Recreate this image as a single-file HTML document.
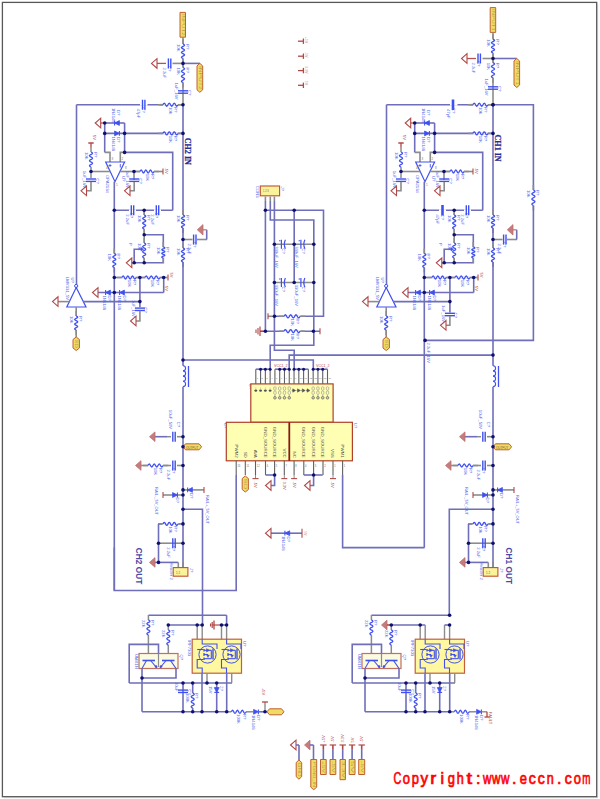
<!DOCTYPE html><html><head><meta charset="utf-8"><style>html,body{margin:0;padding:0;background:#fff;overflow:hidden}svg{display:block}</style></head><body><svg width="600" height="799" viewBox="0 0 600 799"><rect x="0" y="0" width="600" height="799" fill="#ffffff"/>
<rect x="2.4" y="2.4" width="594.3" height="794.3" fill="none" stroke="#585858" stroke-width="1.3"/>
<polyline points="597.6,4 597.6,797.6 4,797.6" fill="none" stroke="#b4b4b4" stroke-width="0.8"/>
<polygon points="180,12.4 180,12.4 185.5,12.4 185.5,37.2 185.5,37.2 180,37.2" stroke="#c06030" stroke-width="1.0" fill="#f0dc62"/>
<text x="181.65" y="13.9" font-size="2.8" fill="#b89850" font-family="Liberation Sans" transform="rotate(90 181.65 13.9)" textLength="21.8" lengthAdjust="spacingAndGlyphs">INPUT2</text>
<line x1="183" y1="37.2" x2="183" y2="44" stroke="#8c8c8c" stroke-width="1.6"/>
<text x="176.7" y="44" font-size="4.2" fill="#5264ec" font-family="Liberation Sans" text-anchor="start" font-weight="normal" transform="rotate(90 176.7 44)">10K</text>
<text x="185.6" y="44" font-size="4.2" fill="#5264ec" font-family="Liberation Sans" text-anchor="start" font-weight="normal" transform="rotate(90 185.6 44)">R?</text>
<line x1="183" y1="39" x2="183" y2="44" stroke="#8c8c8c" stroke-width="1.5"/>
<line x1="183" y1="58.5" x2="183" y2="63.5" stroke="#8c8c8c" stroke-width="1.5"/>
<polyline points="183,44 183.75,44.4 184.3,44.81 184.5,45.21 184.3,45.61 183.75,46.01 183,46.42 182.25,46.82 181.7,47.22 181.5,47.62 181.7,48.03 182.25,48.43 183,48.83 183.75,49.24 184.3,49.64 184.5,50.04 184.3,50.44 183.75,50.85 183,51.25 182.25,51.65 181.7,52.06 181.5,52.46 181.7,52.86 182.25,53.26 183,53.67 183.75,54.07 184.3,54.47 184.5,54.88 184.3,55.28 183.75,55.68 183,56.08 182.25,56.49 181.7,56.89 181.5,57.29 181.7,57.69 182.25,58.1 183,58.5" stroke="#4050f0" stroke-width="1.3" fill="none" stroke-linejoin="miter"/>
<line x1="183" y1="58.5" x2="183" y2="67.5" stroke="#8c8c8c" stroke-width="1.6"/>
<line x1="157" y1="63.4" x2="166" y2="63.4" stroke="#b85050" stroke-width="1.3"/>
<text x="162.6" y="67.4" font-size="4.2" fill="#5264ec" font-family="Liberation Sans" text-anchor="start" font-weight="normal" transform="rotate(90 162.6 67.4)">2.2uF</text>
<text x="167.5" y="65.9" font-size="4.2" fill="#5264ec" font-family="Liberation Sans" text-anchor="start" font-weight="normal" transform="rotate(90 167.5 65.9)">C?</text>
<line x1="168.4" y1="58.4" x2="168.4" y2="68.4" stroke="#4050f0" stroke-width="1.4"/>
<line x1="170.8" y1="58.4" x2="170.8" y2="68.4" stroke="#4050f0" stroke-width="1.4"/>
<line x1="172.5" y1="63.4" x2="183" y2="63.4" stroke="#8c8c8c" stroke-width="1.6"/>
<polygon points="157,58.6 157,68.2 151.5,63.4" stroke="#b04848" stroke-width="1.1" fill="none"/>
<line x1="183" y1="63.4" x2="200" y2="63.4" stroke="#6e6eba" stroke-width="1.6"/>
<polygon points="197,65.9 199.85,63.4 202.7,65.9 202.7,89.8 199.85,92.3 197,89.8" stroke="#c06030" stroke-width="1.0" fill="#f0dc62"/>
<text x="198.75" y="65.9" font-size="2.8" fill="#b89850" font-family="Liberation Sans" transform="rotate(90 198.75 65.9)" textLength="23.9" lengthAdjust="spacingAndGlyphs">INPUT2</text>
<text x="176.7" y="67.5" font-size="4.2" fill="#5264ec" font-family="Liberation Sans" text-anchor="start" font-weight="normal" transform="rotate(90 176.7 67.5)">10K</text>
<text x="185.6" y="67.5" font-size="4.2" fill="#5264ec" font-family="Liberation Sans" text-anchor="start" font-weight="normal" transform="rotate(90 185.6 67.5)">R?</text>
<line x1="183" y1="62.5" x2="183" y2="67.5" stroke="#8c8c8c" stroke-width="1.5"/>
<line x1="183" y1="82.6" x2="183" y2="87.6" stroke="#8c8c8c" stroke-width="1.5"/>
<polyline points="183,67.5 183.75,67.92 184.3,68.34 184.5,68.76 184.3,69.18 183.75,69.6 183,70.02 182.25,70.44 181.7,70.86 181.5,71.28 181.7,71.69 182.25,72.11 183,72.53 183.75,72.95 184.3,73.37 184.5,73.79 184.3,74.21 183.75,74.63 183,75.05 182.25,75.47 181.7,75.89 181.5,76.31 181.7,76.73 182.25,77.15 183,77.57 183.75,77.99 184.3,78.41 184.5,78.82 184.3,79.24 183.75,79.66 183,80.08 182.25,80.5 181.7,80.92 181.5,81.34 181.7,81.76 182.25,82.18 183,82.6" stroke="#4050f0" stroke-width="1.3" fill="none" stroke-linejoin="miter"/>
<line x1="183" y1="82.6" x2="183" y2="104.7" stroke="#8c8c8c" stroke-width="1.6"/>
<text x="175" y="82.6" font-size="4.2" fill="#5264ec" font-family="Liberation Sans" text-anchor="start" font-weight="normal" transform="rotate(90 175 82.6)">1uF_16V</text>
<text x="187.5" y="90" font-size="4.2" fill="#5264ec" font-family="Liberation Sans" text-anchor="start" font-weight="normal" transform="rotate(90 187.5 90)">C?</text>
<line x1="178" y1="90.8" x2="188" y2="90.8" stroke="#4050f0" stroke-width="1.4"/>
<line x1="178" y1="93.2" x2="188" y2="93.2" stroke="#4050f0" stroke-width="1.4"/>
<line x1="183" y1="104.7" x2="183" y2="215" stroke="#6e6eba" stroke-width="1.6"/>
<text x="176.7" y="215" font-size="4.2" fill="#5264ec" font-family="Liberation Sans" text-anchor="start" font-weight="normal" transform="rotate(90 176.7 215)">10K</text>
<text x="185.6" y="215" font-size="4.2" fill="#5264ec" font-family="Liberation Sans" text-anchor="start" font-weight="normal" transform="rotate(90 185.6 215)">R?</text>
<line x1="183" y1="210" x2="183" y2="215" stroke="#8c8c8c" stroke-width="1.5"/>
<line x1="183" y1="228" x2="183" y2="233" stroke="#8c8c8c" stroke-width="1.5"/>
<polyline points="183,215 183.75,215.36 184.3,215.72 184.5,216.08 184.3,216.44 183.75,216.81 183,217.17 182.25,217.53 181.7,217.89 181.5,218.25 181.7,218.61 182.25,218.97 183,219.33 183.75,219.69 184.3,220.06 184.5,220.42 184.3,220.78 183.75,221.14 183,221.5 182.25,221.86 181.7,222.22 181.5,222.58 181.7,222.94 182.25,223.31 183,223.67 183.75,224.03 184.3,224.39 184.5,224.75 184.3,225.11 183.75,225.47 183,225.83 182.25,226.19 181.7,226.56 181.5,226.92 181.7,227.28 182.25,227.64 183,228" stroke="#4050f0" stroke-width="1.3" fill="none" stroke-linejoin="miter"/>
<line x1="183" y1="228" x2="183" y2="248" stroke="#6e6eba" stroke-width="1.6"/>
<text x="176.7" y="248" font-size="4.2" fill="#5264ec" font-family="Liberation Sans" text-anchor="start" font-weight="normal" transform="rotate(90 176.7 248)">10K</text>
<text x="185.6" y="248" font-size="4.2" fill="#5264ec" font-family="Liberation Sans" text-anchor="start" font-weight="normal" transform="rotate(90 185.6 248)">R?</text>
<line x1="183" y1="243" x2="183" y2="248" stroke="#8c8c8c" stroke-width="1.5"/>
<line x1="183" y1="262" x2="183" y2="267" stroke="#8c8c8c" stroke-width="1.5"/>
<polyline points="183,248 183.75,248.39 184.3,248.78 184.5,249.17 184.3,249.56 183.75,249.94 183,250.33 182.25,250.72 181.7,251.11 181.5,251.5 181.7,251.89 182.25,252.28 183,252.67 183.75,253.06 184.3,253.44 184.5,253.83 184.3,254.22 183.75,254.61 183,255 182.25,255.39 181.7,255.78 181.5,256.17 181.7,256.56 182.25,256.94 183,257.33 183.75,257.72 184.3,258.11 184.5,258.5 184.3,258.89 183.75,259.28 183,259.67 182.25,260.06 181.7,260.44 181.5,260.83 181.7,261.22 182.25,261.61 183,262" stroke="#4050f0" stroke-width="1.3" fill="none" stroke-linejoin="miter"/>
<line x1="183" y1="262" x2="183" y2="365.7" stroke="#6e6eba" stroke-width="1.6"/>
<line x1="183" y1="239.5" x2="192.5" y2="239.5" stroke="#8c8c8c" stroke-width="1.6"/>
<text x="187.8" y="243.5" font-size="4.2" fill="#5264ec" font-family="Liberation Sans" text-anchor="start" font-weight="normal" transform="rotate(90 187.8 243.5)">2.2uF</text>
<text x="192.7" y="242" font-size="4.2" fill="#5264ec" font-family="Liberation Sans" text-anchor="start" font-weight="normal" transform="rotate(90 192.7 242)">C?</text>
<line x1="193.6" y1="234.5" x2="193.6" y2="244.5" stroke="#4050f0" stroke-width="1.4"/>
<line x1="196" y1="234.5" x2="196" y2="244.5" stroke="#4050f0" stroke-width="1.4"/>
<line x1="197" y1="239.5" x2="207" y2="239.5" stroke="#8c8c8c" stroke-width="1.6"/>
<polyline points="206.7,239.5 206.7,229.8" stroke="#6e6eba" stroke-width="1.6" fill="none" stroke-linejoin="miter"/>
<line x1="203" y1="229.8" x2="206.7" y2="229.8" stroke="#c47c7c" stroke-width="1.3"/>
<polygon points="203,224.6 203,235 197.3,229.8" stroke="#c07070" stroke-width="0.8" fill="#c47c7c"/>
<path d="M183,365.7 A2.6,2.6 0 0 1 183,370.9" stroke="#4050f0" stroke-width="1.1" fill="none"/>
<path d="M183,370.9 A2.6,2.6 0 0 1 183,376.1" stroke="#4050f0" stroke-width="1.1" fill="none"/>
<path d="M183,376.1 A2.6,2.6 0 0 1 183,381.3" stroke="#4050f0" stroke-width="1.1" fill="none"/>
<path d="M183,381.3 A2.6,2.6 0 0 1 183,386.5" stroke="#4050f0" stroke-width="1.1" fill="none"/>
<line x1="188.5" y1="366" x2="188.5" y2="387" stroke="#4050f0" stroke-width="1.3"/>
<line x1="183" y1="386.7" x2="183" y2="576" stroke="#6e6eba" stroke-width="1.6"/>
<line x1="76.5" y1="104.7" x2="183" y2="104.7" stroke="#6e6eba" stroke-width="1.6"/>
<line x1="140" y1="104.7" x2="147.5" y2="104.7" stroke="#ffffff" stroke-width="2"/>
<text x="136.7" y="108.7" font-size="4.2" fill="#5264ec" font-family="Liberation Sans" text-anchor="start" font-weight="normal" transform="rotate(90 136.7 108.7)">47pF</text>
<text x="141.6" y="107.2" font-size="4.2" fill="#5264ec" font-family="Liberation Sans" text-anchor="start" font-weight="normal" transform="rotate(90 141.6 107.2)">C?</text>
<line x1="142.5" y1="99.7" x2="142.5" y2="109.7" stroke="#4050f0" stroke-width="1.4"/>
<line x1="144.9" y1="99.7" x2="144.9" y2="109.7" stroke="#4050f0" stroke-width="1.4"/>
<line x1="160" y1="104.7" x2="163" y2="104.7" stroke="#8c8c8c" stroke-width="1.6"/>
<line x1="163" y1="104.7" x2="178" y2="104.7" stroke="#ffffff" stroke-width="2"/>
<text x="169.2" y="107" font-size="4.2" fill="#5264ec" font-family="Liberation Sans" text-anchor="start" font-weight="normal" transform="rotate(90 169.2 107)">10K</text>
<text x="174.4" y="107" font-size="4.2" fill="#5264ec" font-family="Liberation Sans" text-anchor="start" font-weight="normal" transform="rotate(90 174.4 107)">R?</text>
<line x1="158" y1="104.7" x2="163" y2="104.7" stroke="#8c8c8c" stroke-width="1.5"/>
<line x1="178" y1="104.7" x2="183" y2="104.7" stroke="#8c8c8c" stroke-width="1.5"/>
<polyline points="163,104.7 163.42,103.95 163.83,103.4 164.25,103.2 164.67,103.4 165.08,103.95 165.5,104.7 165.92,105.45 166.33,106 166.75,106.2 167.17,106 167.58,105.45 168,104.7 168.42,103.95 168.83,103.4 169.25,103.2 169.67,103.4 170.08,103.95 170.5,104.7 170.92,105.45 171.33,106 171.75,106.2 172.17,106 172.58,105.45 173,104.7 173.42,103.95 173.83,103.4 174.25,103.2 174.67,103.4 175.08,103.95 175.5,104.7 175.92,105.45 176.33,106 176.75,106.2 177.17,106 177.58,105.45 178,104.7" stroke="#4050f0" stroke-width="1.3" fill="none" stroke-linejoin="miter"/>
<line x1="76.5" y1="104.7" x2="76.5" y2="284.5" stroke="#6e6eba" stroke-width="1.6"/>
<line x1="104.7" y1="133.4" x2="183" y2="133.4" stroke="#6e6eba" stroke-width="1.6"/>
<line x1="163" y1="133.4" x2="178" y2="133.4" stroke="#ffffff" stroke-width="2"/>
<text x="169.2" y="135.7" font-size="4.2" fill="#5264ec" font-family="Liberation Sans" text-anchor="start" font-weight="normal" transform="rotate(90 169.2 135.7)">10K</text>
<text x="174.4" y="135.7" font-size="4.2" fill="#5264ec" font-family="Liberation Sans" text-anchor="start" font-weight="normal" transform="rotate(90 174.4 135.7)">R?</text>
<line x1="158" y1="133.4" x2="163" y2="133.4" stroke="#8c8c8c" stroke-width="1.5"/>
<line x1="178" y1="133.4" x2="183" y2="133.4" stroke="#8c8c8c" stroke-width="1.5"/>
<polyline points="163,133.4 163.42,132.65 163.83,132.1 164.25,131.9 164.67,132.1 165.08,132.65 165.5,133.4 165.92,134.15 166.33,134.7 166.75,134.9 167.17,134.7 167.58,134.15 168,133.4 168.42,132.65 168.83,132.1 169.25,131.9 169.67,132.1 170.08,132.65 170.5,133.4 170.92,134.15 171.33,134.7 171.75,134.9 172.17,134.7 172.58,134.15 173,133.4 173.42,132.65 173.83,132.1 174.25,131.9 174.67,132.1 175.08,132.65 175.5,133.4 175.92,134.15 176.33,134.7 176.75,134.9 177.17,134.7 177.58,134.15 178,133.4" stroke="#4050f0" stroke-width="1.3" fill="none" stroke-linejoin="miter"/>
<line x1="104.7" y1="123" x2="124.6" y2="123" stroke="#6e6eba" stroke-width="1.6"/>
<polygon points="100.7,118.2 100.7,127.8 95.2,123" stroke="#b04848" stroke-width="1.1" fill="none"/>
<line x1="100.7" y1="123" x2="104.7" y2="123" stroke="#b04848" stroke-width="1.2"/>
<polygon points="119.4,120.6 119.4,125.4 114.6,123" stroke="#4050f0" stroke-width="0.8" fill="#4050f0"/>
<line x1="114.6" y1="120.6" x2="114.6" y2="125.4" stroke="#4050f0" stroke-width="1.1"/>
<polygon points="114.6,131 114.6,135.8 119.4,133.4" stroke="#4050f0" stroke-width="0.8" fill="#4050f0"/>
<line x1="119.4" y1="131" x2="119.4" y2="135.8" stroke="#4050f0" stroke-width="1.1"/>
<line x1="104.7" y1="123" x2="104.7" y2="152.4" stroke="#6e6eba" stroke-width="1.6"/>
<line x1="124.6" y1="123" x2="124.6" y2="152.4" stroke="#6e6eba" stroke-width="1.6"/>
<polyline points="104.7,152.4 110,152.4 110,162" stroke="#8c8c8c" stroke-width="1.6" fill="none" stroke-linejoin="miter"/>
<polyline points="124.6,152.4 120.3,152.4 120.3,162" stroke="#8c8c8c" stroke-width="1.6" fill="none" stroke-linejoin="miter"/>
<polyline points="124.6,152.4 172.7,152.4 172.7,210.3" stroke="#6e6eba" stroke-width="1.6" fill="none" stroke-linejoin="miter"/>
<polygon points="105.7,162 124.6,162 115,181.7" stroke="#4050f0" stroke-width="1.2" fill="none"/>
<line x1="108.5" y1="165.5" x2="111.5" y2="165.5" stroke="#4050f0" stroke-width="0.8"/>
<line x1="110" y1="164" x2="110" y2="167" stroke="#4050f0" stroke-width="0.8"/>
<line x1="120.3" y1="164" x2="120.3" y2="167.5" stroke="#4050f0" stroke-width="0.9"/>
<line x1="91" y1="171.5" x2="110.5" y2="171.5" stroke="#8c8c8c" stroke-width="1.6"/>
<line x1="119.5" y1="171.5" x2="134" y2="171.5" stroke="#8c8c8c" stroke-width="1.6"/>
<text x="84.7" y="152" font-size="4.2" fill="#5264ec" font-family="Liberation Sans" text-anchor="start" font-weight="normal" transform="rotate(90 84.7 152)">10K</text>
<text x="93.6" y="152" font-size="4.2" fill="#5264ec" font-family="Liberation Sans" text-anchor="start" font-weight="normal" transform="rotate(90 93.6 152)">R?</text>
<polyline points="91,152 91.75,152.42 92.3,152.83 92.5,153.25 92.3,153.67 91.75,154.08 91,154.5 90.25,154.92 89.7,155.33 89.5,155.75 89.7,156.17 90.25,156.58 91,157 91.75,157.42 92.3,157.83 92.5,158.25 92.3,158.67 91.75,159.08 91,159.5 90.25,159.92 89.7,160.33 89.5,160.75 89.7,161.17 90.25,161.58 91,162 91.75,162.42 92.3,162.83 92.5,163.25 92.3,163.67 91.75,164.08 91,164.5 90.25,164.92 89.7,165.33 89.5,165.75 89.7,166.17 90.25,166.58 91,167" stroke="#4050f0" stroke-width="1.3" fill="none" stroke-linejoin="miter"/>
<line x1="91" y1="147" x2="91" y2="152" stroke="#8c8c8c" stroke-width="1.5"/>
<line x1="91" y1="167" x2="91" y2="178" stroke="#8c8c8c" stroke-width="1.5"/>
<line x1="91" y1="143" x2="91" y2="147" stroke="#b04848" stroke-width="1.3"/>
<line x1="88.3" y1="143" x2="93.7" y2="143" stroke="#b04848" stroke-width="1.5"/>
<text x="83" y="170.8" font-size="4.2" fill="#5264ec" font-family="Liberation Sans" text-anchor="start" font-weight="normal" transform="rotate(90 83 170.8)">1uF_16V</text>
<text x="95.5" y="178.2" font-size="4.2" fill="#5264ec" font-family="Liberation Sans" text-anchor="start" font-weight="normal" transform="rotate(90 95.5 178.2)">C?</text>
<line x1="86" y1="179" x2="96" y2="179" stroke="#4050f0" stroke-width="1.4"/>
<line x1="86" y1="181.4" x2="96" y2="181.4" stroke="#4050f0" stroke-width="1.4"/>
<polyline points="91,182 91,190.8 86.5,190.8" stroke="#8c8c8c" stroke-width="1.6" fill="none" stroke-linejoin="miter"/>
<polygon points="86.5,186 86.5,195.6 81,190.8" stroke="#b04848" stroke-width="1.1" fill="none"/>
<line x1="134" y1="171.5" x2="140" y2="171.5" stroke="#8c8c8c" stroke-width="1.6"/>
<text x="145.7" y="173.8" font-size="4.2" fill="#5264ec" font-family="Liberation Sans" text-anchor="start" font-weight="normal" transform="rotate(90 145.7 173.8)">10K</text>
<text x="150.9" y="173.8" font-size="4.2" fill="#5264ec" font-family="Liberation Sans" text-anchor="start" font-weight="normal" transform="rotate(90 150.9 173.8)">R?</text>
<line x1="135" y1="171.5" x2="140" y2="171.5" stroke="#8c8c8c" stroke-width="1.5"/>
<line x1="154" y1="171.5" x2="159" y2="171.5" stroke="#8c8c8c" stroke-width="1.5"/>
<polyline points="140,171.5 140.39,170.75 140.78,170.2 141.17,170 141.56,170.2 141.94,170.75 142.33,171.5 142.72,172.25 143.11,172.8 143.5,173 143.89,172.8 144.28,172.25 144.67,171.5 145.06,170.75 145.44,170.2 145.83,170 146.22,170.2 146.61,170.75 147,171.5 147.39,172.25 147.78,172.8 148.17,173 148.56,172.8 148.94,172.25 149.33,171.5 149.72,170.75 150.11,170.2 150.5,170 150.89,170.2 151.28,170.75 151.67,171.5 152.06,172.25 152.44,172.8 152.83,173 153.22,172.8 153.61,172.25 154,171.5" stroke="#4050f0" stroke-width="1.3" fill="none" stroke-linejoin="miter"/>
<line x1="154" y1="171.5" x2="163" y2="171.5" stroke="#8c8c8c" stroke-width="1.6"/>
<line x1="163" y1="168.5" x2="163" y2="174.5" stroke="#b04848" stroke-width="1.1"/>
<line x1="134" y1="171.5" x2="134" y2="180" stroke="#8c8c8c" stroke-width="1.6"/>
<text x="126.2" y="170.8" font-size="4.2" fill="#5264ec" font-family="Liberation Sans" text-anchor="start" font-weight="normal" transform="rotate(90 126.2 170.8)">1uF_16V</text>
<text x="138.7" y="178.2" font-size="4.2" fill="#5264ec" font-family="Liberation Sans" text-anchor="start" font-weight="normal" transform="rotate(90 138.7 178.2)">C?</text>
<line x1="129.2" y1="179" x2="139.2" y2="179" stroke="#4050f0" stroke-width="1.4"/>
<line x1="129.2" y1="181.4" x2="139.2" y2="181.4" stroke="#4050f0" stroke-width="1.4"/>
<polyline points="134.2,182 134.2,190.8 130,190.8" stroke="#8c8c8c" stroke-width="1.6" fill="none" stroke-linejoin="miter"/>
<polygon points="130,186 130,195.6 124.5,190.8" stroke="#b04848" stroke-width="1.1" fill="none"/>
<line x1="114.3" y1="181.7" x2="114.3" y2="253.5" stroke="#6e6eba" stroke-width="1.6"/>
<line x1="114.3" y1="210.3" x2="172.7" y2="210.3" stroke="#6e6eba" stroke-width="1.6"/>
<line x1="129" y1="210.3" x2="136" y2="210.3" stroke="#ffffff" stroke-width="2"/>
<text x="125.5" y="214.3" font-size="4.2" fill="#5264ec" font-family="Liberation Sans" text-anchor="start" font-weight="normal" transform="rotate(90 125.5 214.3)">2.2uF</text>
<text x="130.4" y="212.8" font-size="4.2" fill="#5264ec" font-family="Liberation Sans" text-anchor="start" font-weight="normal" transform="rotate(90 130.4 212.8)">C?</text>
<line x1="131.3" y1="205.3" x2="131.3" y2="215.3" stroke="#4050f0" stroke-width="1.4"/>
<line x1="133.7" y1="205.3" x2="133.7" y2="215.3" stroke="#4050f0" stroke-width="1.4"/>
<line x1="154" y1="210.3" x2="161" y2="210.3" stroke="#ffffff" stroke-width="2"/>
<text x="150.5" y="214.3" font-size="4.2" fill="#5264ec" font-family="Liberation Sans" text-anchor="start" font-weight="normal" transform="rotate(90 150.5 214.3)">2.2uF</text>
<text x="155.4" y="212.8" font-size="4.2" fill="#5264ec" font-family="Liberation Sans" text-anchor="start" font-weight="normal" transform="rotate(90 155.4 212.8)">C?</text>
<line x1="156.3" y1="205.3" x2="156.3" y2="215.3" stroke="#4050f0" stroke-width="1.4"/>
<line x1="158.7" y1="205.3" x2="158.7" y2="215.3" stroke="#4050f0" stroke-width="1.4"/>
<line x1="144.2" y1="210.3" x2="144.2" y2="215" stroke="#8c8c8c" stroke-width="1.6"/>
<text x="137.9" y="215" font-size="4.2" fill="#5264ec" font-family="Liberation Sans" text-anchor="start" font-weight="normal" transform="rotate(90 137.9 215)">10K</text>
<text x="146.8" y="215" font-size="4.2" fill="#5264ec" font-family="Liberation Sans" text-anchor="start" font-weight="normal" transform="rotate(90 146.8 215)">R?</text>
<line x1="144.2" y1="210" x2="144.2" y2="215" stroke="#8c8c8c" stroke-width="1.5"/>
<line x1="144.2" y1="229" x2="144.2" y2="234" stroke="#8c8c8c" stroke-width="1.5"/>
<polyline points="144.2,215 144.95,215.39 145.5,215.78 145.7,216.17 145.5,216.56 144.95,216.94 144.2,217.33 143.45,217.72 142.9,218.11 142.7,218.5 142.9,218.89 143.45,219.28 144.2,219.67 144.95,220.06 145.5,220.44 145.7,220.83 145.5,221.22 144.95,221.61 144.2,222 143.45,222.39 142.9,222.78 142.7,223.17 142.9,223.56 143.45,223.94 144.2,224.33 144.95,224.72 145.5,225.11 145.7,225.5 145.5,225.89 144.95,226.28 144.2,226.67 143.45,227.06 142.9,227.44 142.7,227.83 142.9,228.22 143.45,228.61 144.2,229" stroke="#4050f0" stroke-width="1.3" fill="none" stroke-linejoin="miter"/>
<line x1="144.2" y1="229" x2="144.2" y2="243" stroke="#8c8c8c" stroke-width="1.6"/>
<polyline points="144.2,234.8 163.3,234.8 163.3,262.8 134.2,262.8 134.2,249.3 141,249.3" stroke="#6e6eba" stroke-width="1.6" fill="none" stroke-linejoin="miter"/>
<polygon points="141,247.5 141,251.1 143.5,249.3" stroke="#4050f0" stroke-width="0.6" fill="#4050f0"/>
<text x="137.9" y="243" font-size="4.2" fill="#5264ec" font-family="Liberation Sans" text-anchor="start" font-weight="normal" transform="rotate(90 137.9 243)">10K</text>
<text x="146.8" y="243" font-size="4.2" fill="#5264ec" font-family="Liberation Sans" text-anchor="start" font-weight="normal" transform="rotate(90 146.8 243)">R?</text>
<line x1="144.2" y1="238" x2="144.2" y2="243" stroke="#8c8c8c" stroke-width="1.5"/>
<line x1="144.2" y1="258" x2="144.2" y2="263" stroke="#8c8c8c" stroke-width="1.5"/>
<polyline points="144.2,243 144.95,243.42 145.5,243.83 145.7,244.25 145.5,244.67 144.95,245.08 144.2,245.5 143.45,245.92 142.9,246.33 142.7,246.75 142.9,247.17 143.45,247.58 144.2,248 144.95,248.42 145.5,248.83 145.7,249.25 145.5,249.67 144.95,250.08 144.2,250.5 143.45,250.92 142.9,251.33 142.7,251.75 142.9,252.17 143.45,252.58 144.2,253 144.95,253.42 145.5,253.83 145.7,254.25 145.5,254.67 144.95,255.08 144.2,255.5 143.45,255.92 142.9,256.33 142.7,256.75 142.9,257.17 143.45,257.58 144.2,258" stroke="#4050f0" stroke-width="1.3" fill="none" stroke-linejoin="miter"/>
<line x1="144.2" y1="258" x2="144.2" y2="262.8" stroke="#8c8c8c" stroke-width="1.6"/>
<line x1="163.3" y1="247" x2="163.3" y2="258" stroke="#ffffff" stroke-width="2"/>
<text x="157" y="247" font-size="4.2" fill="#5264ec" font-family="Liberation Sans" text-anchor="start" font-weight="normal" transform="rotate(90 157 247)">10K</text>
<text x="165.9" y="247" font-size="4.2" fill="#5264ec" font-family="Liberation Sans" text-anchor="start" font-weight="normal" transform="rotate(90 165.9 247)">R?</text>
<line x1="163.3" y1="242" x2="163.3" y2="247" stroke="#8c8c8c" stroke-width="1.5"/>
<line x1="163.3" y1="258" x2="163.3" y2="263" stroke="#8c8c8c" stroke-width="1.5"/>
<polyline points="163.3,247 164.05,247.31 164.6,247.61 164.8,247.92 164.6,248.22 164.05,248.53 163.3,248.83 162.55,249.14 162,249.44 161.8,249.75 162,250.06 162.55,250.36 163.3,250.67 164.05,250.97 164.6,251.28 164.8,251.58 164.6,251.89 164.05,252.19 163.3,252.5 162.55,252.81 162,253.11 161.8,253.42 162,253.72 162.55,254.03 163.3,254.33 164.05,254.64 164.6,254.94 164.8,255.25 164.6,255.56 164.05,255.86 163.3,256.17 162.55,256.47 162,256.78 161.8,257.08 162,257.39 162.55,257.69 163.3,258" stroke="#4050f0" stroke-width="1.3" fill="none" stroke-linejoin="miter"/>
<line x1="131.8" y1="262.8" x2="134.2" y2="262.8" stroke="#8c8c8c" stroke-width="1.6"/>
<polygon points="131.8,258 131.8,267.6 126.3,262.8" stroke="#b04848" stroke-width="1.1" fill="none"/>
<text x="108" y="253.5" font-size="4.2" fill="#5264ec" font-family="Liberation Sans" text-anchor="start" font-weight="normal" transform="rotate(90 108 253.5)">10K</text>
<text x="116.9" y="253.5" font-size="4.2" fill="#5264ec" font-family="Liberation Sans" text-anchor="start" font-weight="normal" transform="rotate(90 116.9 253.5)">R?</text>
<line x1="114.3" y1="248.5" x2="114.3" y2="253.5" stroke="#8c8c8c" stroke-width="1.5"/>
<line x1="114.3" y1="267.5" x2="114.3" y2="272.5" stroke="#8c8c8c" stroke-width="1.5"/>
<polyline points="114.3,253.5 115.05,253.89 115.6,254.28 115.8,254.67 115.6,255.06 115.05,255.44 114.3,255.83 113.55,256.22 113,256.61 112.8,257 113,257.39 113.55,257.78 114.3,258.17 115.05,258.56 115.6,258.94 115.8,259.33 115.6,259.72 115.05,260.11 114.3,260.5 113.55,260.89 113,261.28 112.8,261.67 113,262.06 113.55,262.44 114.3,262.83 115.05,263.22 115.6,263.61 115.8,264 115.6,264.39 115.05,264.78 114.3,265.17 113.55,265.56 113,265.94 112.8,266.33 113,266.72 113.55,267.11 114.3,267.5" stroke="#4050f0" stroke-width="1.3" fill="none" stroke-linejoin="miter"/>
<line x1="114.3" y1="267.5" x2="114.3" y2="590.5" stroke="#6e6eba" stroke-width="1.6"/>
<line x1="114.3" y1="277.5" x2="163.7" y2="277.5" stroke="#6e6eba" stroke-width="1.6"/>
<line x1="121" y1="277.5" x2="137" y2="277.5" stroke="#ffffff" stroke-width="2"/>
<text x="127.7" y="279.8" font-size="4.2" fill="#5264ec" font-family="Liberation Sans" text-anchor="start" font-weight="normal" transform="rotate(90 127.7 279.8)">10K</text>
<text x="132.9" y="279.8" font-size="4.2" fill="#5264ec" font-family="Liberation Sans" text-anchor="start" font-weight="normal" transform="rotate(90 132.9 279.8)">R?</text>
<line x1="117" y1="277.5" x2="122" y2="277.5" stroke="#8c8c8c" stroke-width="1.5"/>
<line x1="136" y1="277.5" x2="141" y2="277.5" stroke="#8c8c8c" stroke-width="1.5"/>
<polyline points="122,277.5 122.39,276.75 122.78,276.2 123.17,276 123.56,276.2 123.94,276.75 124.33,277.5 124.72,278.25 125.11,278.8 125.5,279 125.89,278.8 126.28,278.25 126.67,277.5 127.06,276.75 127.44,276.2 127.83,276 128.22,276.2 128.61,276.75 129,277.5 129.39,278.25 129.78,278.8 130.17,279 130.56,278.8 130.94,278.25 131.33,277.5 131.72,276.75 132.11,276.2 132.5,276 132.89,276.2 133.28,276.75 133.67,277.5 134.06,278.25 134.44,278.8 134.83,279 135.22,278.8 135.61,278.25 136,277.5" stroke="#4050f0" stroke-width="1.3" fill="none" stroke-linejoin="miter"/>
<line x1="145" y1="277.5" x2="161" y2="277.5" stroke="#ffffff" stroke-width="2"/>
<text x="151.2" y="279.8" font-size="4.2" fill="#5264ec" font-family="Liberation Sans" text-anchor="start" font-weight="normal" transform="rotate(90 151.2 279.8)">10K</text>
<text x="156.4" y="279.8" font-size="4.2" fill="#5264ec" font-family="Liberation Sans" text-anchor="start" font-weight="normal" transform="rotate(90 156.4 279.8)">R?</text>
<line x1="140" y1="277.5" x2="145" y2="277.5" stroke="#8c8c8c" stroke-width="1.5"/>
<line x1="160" y1="277.5" x2="165" y2="277.5" stroke="#8c8c8c" stroke-width="1.5"/>
<polyline points="145,277.5 145.42,276.75 145.83,276.2 146.25,276 146.67,276.2 147.08,276.75 147.5,277.5 147.92,278.25 148.33,278.8 148.75,279 149.17,278.8 149.58,278.25 150,277.5 150.42,276.75 150.83,276.2 151.25,276 151.67,276.2 152.08,276.75 152.5,277.5 152.92,278.25 153.33,278.8 153.75,279 154.17,278.8 154.58,278.25 155,277.5 155.42,276.75 155.83,276.2 156.25,276 156.67,276.2 157.08,276.75 157.5,277.5 157.92,278.25 158.33,278.8 158.75,279 159.17,278.8 159.58,278.25 160,277.5" stroke="#4050f0" stroke-width="1.3" fill="none" stroke-linejoin="miter"/>
<line x1="163.7" y1="277.5" x2="167.5" y2="277.5" stroke="#8c8c8c" stroke-width="1.6"/>
<line x1="168" y1="274.5" x2="168" y2="280.5" stroke="#b04848" stroke-width="1.1"/>
<line x1="98" y1="292.5" x2="163.7" y2="292.5" stroke="#6e6eba" stroke-width="1.6"/>
<polygon points="98,287.7 98,297.3 92.5,292.5" stroke="#b04848" stroke-width="1.1" fill="none"/>
<polygon points="110.4,290.1 110.4,294.9 105.6,292.5" stroke="#4050f0" stroke-width="0.8" fill="#4050f0"/>
<line x1="105.6" y1="290.1" x2="105.6" y2="294.9" stroke="#4050f0" stroke-width="1.1"/>
<polygon points="124.4,290.1 124.4,294.9 119.6,292.5" stroke="#4050f0" stroke-width="0.8" fill="#4050f0"/>
<line x1="119.6" y1="290.1" x2="119.6" y2="294.9" stroke="#4050f0" stroke-width="1.1"/>
<line x1="163.7" y1="277.5" x2="163.7" y2="292.5" stroke="#6e6eba" stroke-width="1.6"/>
<circle cx="76.2" cy="286" r="1.6" fill="none" stroke="#4050f0" stroke-width="1"/>
<polygon points="76.2,287.6 86,307 66.8,307" stroke="#4050f0" stroke-width="1.2" fill="none"/>
<line x1="58" y1="301.6" x2="69.5" y2="301.6" stroke="#8c8c8c" stroke-width="1.6"/>
<polygon points="58,296.8 58,306.4 52.5,301.6" stroke="#b04848" stroke-width="1.1" fill="none"/>
<line x1="83" y1="301.6" x2="139.9" y2="301.6" stroke="#6e6eba" stroke-width="1.6"/>
<line x1="139.9" y1="277.5" x2="139.9" y2="307.3" stroke="#6e6eba" stroke-width="1.6"/>
<text x="131.9" y="299.9" font-size="4.2" fill="#5264ec" font-family="Liberation Sans" text-anchor="start" font-weight="normal" transform="rotate(90 131.9 299.9)">1uF_16V</text>
<text x="144.4" y="307.3" font-size="4.2" fill="#5264ec" font-family="Liberation Sans" text-anchor="start" font-weight="normal" transform="rotate(90 144.4 307.3)">C?</text>
<line x1="134.9" y1="308.1" x2="144.9" y2="308.1" stroke="#4050f0" stroke-width="1.4"/>
<line x1="134.9" y1="310.5" x2="144.9" y2="310.5" stroke="#4050f0" stroke-width="1.4"/>
<polyline points="139.9,310.8 139.9,321 136,321" stroke="#8c8c8c" stroke-width="1.6" fill="none" stroke-linejoin="miter"/>
<polygon points="136,316.2 136,325.8 130.5,321" stroke="#b04848" stroke-width="1.1" fill="none"/>
<line x1="76.2" y1="307" x2="76.2" y2="316" stroke="#8c8c8c" stroke-width="1.6"/>
<text x="69.9" y="316" font-size="4.2" fill="#5264ec" font-family="Liberation Sans" text-anchor="start" font-weight="normal" transform="rotate(90 69.9 316)">10K</text>
<text x="78.8" y="316" font-size="4.2" fill="#5264ec" font-family="Liberation Sans" text-anchor="start" font-weight="normal" transform="rotate(90 78.8 316)">R?</text>
<line x1="76.2" y1="311" x2="76.2" y2="316" stroke="#8c8c8c" stroke-width="1.5"/>
<line x1="76.2" y1="330" x2="76.2" y2="335" stroke="#8c8c8c" stroke-width="1.5"/>
<polyline points="76.2,316 76.95,316.39 77.5,316.78 77.7,317.17 77.5,317.56 76.95,317.94 76.2,318.33 75.45,318.72 74.9,319.11 74.7,319.5 74.9,319.89 75.45,320.28 76.2,320.67 76.95,321.06 77.5,321.44 77.7,321.83 77.5,322.22 76.95,322.61 76.2,323 75.45,323.39 74.9,323.78 74.7,324.17 74.9,324.56 75.45,324.94 76.2,325.33 76.95,325.72 77.5,326.11 77.7,326.5 77.5,326.89 76.95,327.28 76.2,327.67 75.45,328.06 74.9,328.44 74.7,328.83 74.9,329.22 75.45,329.61 76.2,330" stroke="#4050f0" stroke-width="1.3" fill="none" stroke-linejoin="miter"/>
<line x1="76.2" y1="330" x2="76.2" y2="337" stroke="#8c8c8c" stroke-width="1.6"/>
<polygon points="73,339.5 76.2,337 79.4,339.5 79.4,348 76.2,350.5 73,348" stroke="#c06030" stroke-width="1.0" fill="#f0dc62"/>
<text x="75.1" y="339.5" font-size="2.8" fill="#b89850" font-family="Liberation Sans" transform="rotate(90 75.1 339.5)" textLength="8.5" lengthAdjust="spacingAndGlyphs">SD</text>
<line x1="155" y1="436.7" x2="167" y2="436.7" stroke="#6e6eba" stroke-width="1.6"/>
<line x1="167" y1="436.7" x2="171" y2="436.7" stroke="#8c8c8c" stroke-width="1.5"/>
<polygon points="155,431.9 155,441.5 149.5,436.7" stroke="#c07070" stroke-width="0.8" fill="#c47c7c"/>
<line x1="172.8" y1="431.7" x2="172.8" y2="441.7" stroke="#4050f0" stroke-width="1.4"/>
<line x1="175.2" y1="431.7" x2="175.2" y2="441.7" stroke="#4050f0" stroke-width="1.4"/>
<line x1="177" y1="436.7" x2="183" y2="436.7" stroke="#8c8c8c" stroke-width="1.6"/>
<polygon points="183,446.8 185.5,443.8 199.1,443.8 201.6,446.8 199.1,449.8 185.5,449.8" stroke="#c06030" stroke-width="1.0" fill="#f0dc62"/>
<line x1="141" y1="465.5" x2="148" y2="465.5" stroke="#8c8c8c" stroke-width="1.6"/>
<polygon points="141,460.7 141,470.3 135.5,465.5" stroke="#c07070" stroke-width="0.8" fill="#c47c7c"/>
<text x="154.2" y="467.8" font-size="4.2" fill="#5264ec" font-family="Liberation Sans" text-anchor="start" font-weight="normal" transform="rotate(90 154.2 467.8)">10K</text>
<text x="159.4" y="467.8" font-size="4.2" fill="#5264ec" font-family="Liberation Sans" text-anchor="start" font-weight="normal" transform="rotate(90 159.4 467.8)">R?</text>
<line x1="143" y1="465.5" x2="148" y2="465.5" stroke="#8c8c8c" stroke-width="1.5"/>
<line x1="163" y1="465.5" x2="168" y2="465.5" stroke="#8c8c8c" stroke-width="1.5"/>
<polyline points="148,465.5 148.42,464.75 148.83,464.2 149.25,464 149.67,464.2 150.08,464.75 150.5,465.5 150.92,466.25 151.33,466.8 151.75,467 152.17,466.8 152.58,466.25 153,465.5 153.42,464.75 153.83,464.2 154.25,464 154.67,464.2 155.08,464.75 155.5,465.5 155.92,466.25 156.33,466.8 156.75,467 157.17,466.8 157.58,466.25 158,465.5 158.42,464.75 158.83,464.2 159.25,464 159.67,464.2 160.08,464.75 160.5,465.5 160.92,466.25 161.33,466.8 161.75,467 162.17,466.8 162.58,466.25 163,465.5" stroke="#4050f0" stroke-width="1.3" fill="none" stroke-linejoin="miter"/>
<line x1="163" y1="465.5" x2="171" y2="465.5" stroke="#8c8c8c" stroke-width="1.6"/>
<text x="167" y="469.5" font-size="4.2" fill="#5264ec" font-family="Liberation Sans" text-anchor="start" font-weight="normal" transform="rotate(90 167 469.5)">2.2uF</text>
<text x="171.9" y="468" font-size="4.2" fill="#5264ec" font-family="Liberation Sans" text-anchor="start" font-weight="normal" transform="rotate(90 171.9 468)">C?</text>
<line x1="172.8" y1="460.5" x2="172.8" y2="470.5" stroke="#4050f0" stroke-width="1.4"/>
<line x1="175.2" y1="460.5" x2="175.2" y2="470.5" stroke="#4050f0" stroke-width="1.4"/>
<line x1="177" y1="465.5" x2="183" y2="465.5" stroke="#8c8c8c" stroke-width="1.6"/>
<line x1="183" y1="489.9" x2="204" y2="489.9" stroke="#8c8c8c" stroke-width="1.6"/>
<polygon points="192.4,487.5 192.4,492.3 187.6,489.9" stroke="#4050f0" stroke-width="0.8" fill="#4050f0"/>
<line x1="187.6" y1="487.5" x2="187.6" y2="492.3" stroke="#4050f0" stroke-width="1.1"/>
<line x1="204" y1="486.9" x2="204" y2="492.9" stroke="#b04848" stroke-width="1.1"/>
<line x1="163" y1="495" x2="183" y2="495" stroke="#8c8c8c" stroke-width="1.6"/>
<polygon points="172.6,492.6 172.6,497.4 177.4,495" stroke="#4050f0" stroke-width="0.8" fill="#4050f0"/>
<line x1="177.4" y1="492.6" x2="177.4" y2="497.4" stroke="#4050f0" stroke-width="1.1"/>
<line x1="163" y1="492" x2="163" y2="498" stroke="#b04848" stroke-width="1.1"/>
<polyline points="183,509.3 202.5,509.3 202.5,625" stroke="#6e6eba" stroke-width="1.6" fill="none" stroke-linejoin="miter"/>
<line x1="158.5" y1="523.9" x2="183" y2="523.9" stroke="#6e6eba" stroke-width="1.6"/>
<line x1="162" y1="523.9" x2="179" y2="523.9" stroke="#ffffff" stroke-width="2"/>
<text x="169.2" y="526.2" font-size="4.2" fill="#5264ec" font-family="Liberation Sans" text-anchor="start" font-weight="normal" transform="rotate(90 169.2 526.2)">10K</text>
<text x="174.4" y="526.2" font-size="4.2" fill="#5264ec" font-family="Liberation Sans" text-anchor="start" font-weight="normal" transform="rotate(90 174.4 526.2)">R?</text>
<line x1="158" y1="523.9" x2="163" y2="523.9" stroke="#8c8c8c" stroke-width="1.5"/>
<line x1="178" y1="523.9" x2="183" y2="523.9" stroke="#8c8c8c" stroke-width="1.5"/>
<polyline points="163,523.9 163.42,523.15 163.83,522.6 164.25,522.4 164.67,522.6 165.08,523.15 165.5,523.9 165.92,524.65 166.33,525.2 166.75,525.4 167.17,525.2 167.58,524.65 168,523.9 168.42,523.15 168.83,522.6 169.25,522.4 169.67,522.6 170.08,523.15 170.5,523.9 170.92,524.65 171.33,525.2 171.75,525.4 172.17,525.2 172.58,524.65 173,523.9 173.42,523.15 173.83,522.6 174.25,522.4 174.67,522.6 175.08,523.15 175.5,523.9 175.92,524.65 176.33,525.2 176.75,525.4 177.17,525.2 177.58,524.65 178,523.9" stroke="#4050f0" stroke-width="1.3" fill="none" stroke-linejoin="miter"/>
<line x1="158.5" y1="543.2" x2="183" y2="543.2" stroke="#8c8c8c" stroke-width="1.6"/>
<text x="167" y="547.2" font-size="4.2" fill="#5264ec" font-family="Liberation Sans" text-anchor="start" font-weight="normal" transform="rotate(90 167 547.2)">2.2uF</text>
<text x="171.9" y="545.7" font-size="4.2" fill="#5264ec" font-family="Liberation Sans" text-anchor="start" font-weight="normal" transform="rotate(90 171.9 545.7)">C?</text>
<line x1="172.8" y1="538.2" x2="172.8" y2="548.2" stroke="#4050f0" stroke-width="1.4"/>
<line x1="175.2" y1="538.2" x2="175.2" y2="548.2" stroke="#4050f0" stroke-width="1.4"/>
<line x1="158.5" y1="523.9" x2="158.5" y2="562.4" stroke="#6e6eba" stroke-width="1.6"/>
<line x1="155" y1="562.4" x2="178.3" y2="562.4" stroke="#6e6eba" stroke-width="1.6"/>
<polygon points="155,557.6 155,567.2 149.5,562.4" stroke="#c07070" stroke-width="0.8" fill="#c47c7c"/>
<line x1="178.3" y1="562.4" x2="178.3" y2="567.6" stroke="#8c8c8c" stroke-width="1.6"/>
<line x1="183" y1="562" x2="183" y2="567.6" stroke="#8c8c8c" stroke-width="1.6"/>
<rect x="173.2" y="567.6" width="14.7" height="8.6" fill="#fbf39a" stroke="#c05030" stroke-width="1.1"/>
<text x="176" y="573.5" font-size="3" fill="#806040" font-family="Liberation Sans" text-anchor="start" font-weight="normal">1 2</text>
<text x="112.2" y="108" font-size="4.2" fill="#5264ec" font-family="Liberation Sans" text-anchor="start" font-weight="normal" transform="rotate(90 112.2 108)">1N4148</text>
<text x="117.3" y="110" font-size="4.2" fill="#5264ec" font-family="Liberation Sans" text-anchor="start" font-weight="normal" transform="rotate(90 117.3 110)">D?</text>
<text x="112.2" y="136.5" font-size="4.2" fill="#5264ec" font-family="Liberation Sans" text-anchor="start" font-weight="normal" transform="rotate(90 112.2 136.5)">1N4148</text>
<text x="117.3" y="137" font-size="4.2" fill="#5264ec" font-family="Liberation Sans" text-anchor="start" font-weight="normal" transform="rotate(90 117.3 137)">D?</text>
<text x="106" y="175" font-size="4.2" fill="#5264ec" font-family="Liberation Sans" text-anchor="start" font-weight="normal" transform="rotate(90 106 175)">OPA2134</text>
<text x="121.5" y="176" font-size="4.2" fill="#5264ec" font-family="Liberation Sans" text-anchor="start" font-weight="normal" transform="rotate(90 121.5 176)">U?</text>
<text x="92.5" y="135" font-size="4" fill="#b04848" font-family="Liberation Sans" text-anchor="start" font-weight="normal" transform="rotate(90 92.5 135)">5V</text>
<text x="165" y="167.5" font-size="4" fill="#b04848" font-family="Liberation Sans" text-anchor="start" font-weight="normal" transform="rotate(90 165 167.5)">-5V</text>
<text x="106" y="169" font-size="3" fill="#707070" font-family="Liberation Sans" text-anchor="start" font-weight="normal">4</text>
<text x="125" y="169" font-size="3" fill="#707070" font-family="Liberation Sans" text-anchor="start" font-weight="normal">8</text>
<text x="111.5" y="160" font-size="3" fill="#707070" font-family="Liberation Sans" text-anchor="start" font-weight="normal">3</text>
<text x="121.5" y="160" font-size="3" fill="#707070" font-family="Liberation Sans" text-anchor="start" font-weight="normal">2</text>
<text x="116" y="186" font-size="3" fill="#707070" font-family="Liberation Sans" text-anchor="start" font-weight="normal">1</text>
<text x="129" y="243" font-size="4.2" fill="#5264ec" font-family="Liberation Sans" text-anchor="start" font-weight="normal" transform="rotate(90 129 243)">P</text>
<text x="66" y="277" font-size="4.2" fill="#5264ec" font-family="Liberation Sans" text-anchor="start" font-weight="normal" transform="rotate(90 66 277)">LMV331_5V</text>
<text x="71" y="277.5" font-size="4.2" fill="#5264ec" font-family="Liberation Sans" text-anchor="start" font-weight="normal" transform="rotate(90 71 277.5)">U?</text>
<text x="103" y="295.5" font-size="4.2" fill="#5264ec" font-family="Liberation Sans" text-anchor="start" font-weight="normal" transform="rotate(90 103 295.5)">1N4148</text>
<text x="108.3" y="295.5" font-size="4.2" fill="#5264ec" font-family="Liberation Sans" text-anchor="start" font-weight="normal" transform="rotate(90 108.3 295.5)">D?</text>
<text x="117.5" y="295.5" font-size="4.2" fill="#5264ec" font-family="Liberation Sans" text-anchor="start" font-weight="normal" transform="rotate(90 117.5 295.5)">1N4148</text>
<text x="122.5" y="295.5" font-size="4.2" fill="#5264ec" font-family="Liberation Sans" text-anchor="start" font-weight="normal" transform="rotate(90 122.5 295.5)">D?</text>
<text x="170" y="272.5" font-size="4" fill="#b04848" font-family="Liberation Sans" text-anchor="start" font-weight="normal" transform="rotate(90 170 272.5)">5V</text>
<text x="165" y="286" font-size="4" fill="#b04848" font-family="Liberation Sans" text-anchor="start" font-weight="normal" transform="rotate(90 165 286)">5V</text>
<text x="169.3" y="409.8" font-size="4.2" fill="#5264ec" font-family="Liberation Sans" text-anchor="start" font-weight="normal" transform="rotate(90 169.3 409.8)">10uF_50V</text>
<text x="176.8" y="421.8" font-size="4.2" fill="#5264ec" font-family="Liberation Sans" text-anchor="start" font-weight="normal" transform="rotate(90 176.8 421.8)">C?</text>
<text x="189.5" y="493" font-size="4.2" fill="#5264ec" font-family="Liberation Sans" text-anchor="start" font-weight="normal" transform="rotate(90 189.5 493)">D?</text>
<text x="176.3" y="497.5" font-size="4.2" fill="#5264ec" font-family="Liberation Sans" text-anchor="start" font-weight="normal" transform="rotate(90 176.3 497.5)">D?</text>
<text x="205.5" y="495" font-size="4" fill="#5264ec" font-family="Liberation Sans" text-anchor="start" font-weight="normal" transform="rotate(90 205.5 495)">RAIL+_5V_OUT</text>
<text x="155" y="487" font-size="4" fill="#5264ec" font-family="Liberation Sans" text-anchor="start" font-weight="normal" transform="rotate(90 155 487)">RAIL-_5V_OUT</text>
<text x="169.5" y="562.5" font-size="4.2" fill="#5264ec" font-family="Liberation Sans" text-anchor="start" font-weight="normal" transform="rotate(90 169.5 562.5)">Header 2</text>
<text x="189.7" y="568" font-size="4.2" fill="#5264ec" font-family="Liberation Sans" text-anchor="start" font-weight="normal" transform="rotate(90 189.7 568)">J?</text>
<text x="186" y="449" font-size="3" fill="#806040" font-family="Liberation Sans" text-anchor="start" font-weight="normal">OUTPUT</text>
<polygon points="490.2,7.6 490.2,7.6 495.7,7.6 495.7,32.4 495.7,32.4 490.2,32.4" stroke="#c06030" stroke-width="1.0" fill="#f0dc62"/>
<text x="491.85" y="9.1" font-size="2.8" fill="#b89850" font-family="Liberation Sans" transform="rotate(90 491.85 9.1)" textLength="21.8" lengthAdjust="spacingAndGlyphs">INPUT1</text>
<line x1="493" y1="32.4" x2="493" y2="39.3" stroke="#8c8c8c" stroke-width="1.6"/>
<text x="486.7" y="39.3" font-size="4.2" fill="#5264ec" font-family="Liberation Sans" text-anchor="start" font-weight="normal" transform="rotate(90 486.7 39.3)">10K</text>
<text x="495.6" y="39.3" font-size="4.2" fill="#5264ec" font-family="Liberation Sans" text-anchor="start" font-weight="normal" transform="rotate(90 495.6 39.3)">R?</text>
<line x1="493" y1="34.3" x2="493" y2="39.3" stroke="#8c8c8c" stroke-width="1.5"/>
<line x1="493" y1="53" x2="493" y2="58" stroke="#8c8c8c" stroke-width="1.5"/>
<polyline points="493,39.3 493.75,39.68 494.3,40.06 494.5,40.44 494.3,40.82 493.75,41.2 493,41.58 492.25,41.96 491.7,42.34 491.5,42.72 491.7,43.11 492.25,43.49 493,43.87 493.75,44.25 494.3,44.63 494.5,45.01 494.3,45.39 493.75,45.77 493,46.15 492.25,46.53 491.7,46.91 491.5,47.29 491.7,47.67 492.25,48.05 493,48.43 493.75,48.81 494.3,49.19 494.5,49.58 494.3,49.96 493.75,50.34 493,50.72 492.25,51.1 491.7,51.48 491.5,51.86 491.7,52.24 492.25,52.62 493,53" stroke="#4050f0" stroke-width="1.3" fill="none" stroke-linejoin="miter"/>
<line x1="493" y1="53" x2="493" y2="62.7" stroke="#8c8c8c" stroke-width="1.6"/>
<line x1="467" y1="58.5" x2="476" y2="58.5" stroke="#b85050" stroke-width="1.3"/>
<text x="472.2" y="62.5" font-size="4.2" fill="#5264ec" font-family="Liberation Sans" text-anchor="start" font-weight="normal" transform="rotate(90 472.2 62.5)">2.2uF</text>
<text x="477.1" y="61" font-size="4.2" fill="#5264ec" font-family="Liberation Sans" text-anchor="start" font-weight="normal" transform="rotate(90 477.1 61)">C?</text>
<line x1="478" y1="53.5" x2="478" y2="63.5" stroke="#4050f0" stroke-width="1.4"/>
<line x1="480.4" y1="53.5" x2="480.4" y2="63.5" stroke="#4050f0" stroke-width="1.4"/>
<line x1="482.5" y1="58.5" x2="493" y2="58.5" stroke="#8c8c8c" stroke-width="1.6"/>
<polygon points="467,53.7 467,63.3 461.5,58.5" stroke="#b04848" stroke-width="1.1" fill="none"/>
<line x1="493" y1="58.5" x2="516.8" y2="58.5" stroke="#6e6eba" stroke-width="1.6"/>
<polygon points="514,61 516.8,58.5 519.6,61 519.6,85 516.8,87.5 514,85" stroke="#c06030" stroke-width="1.0" fill="#f0dc62"/>
<text x="515.7" y="61" font-size="2.8" fill="#b89850" font-family="Liberation Sans" transform="rotate(90 515.7 61)" textLength="24" lengthAdjust="spacingAndGlyphs">INPUT1</text>
<text x="486.7" y="62.7" font-size="4.2" fill="#5264ec" font-family="Liberation Sans" text-anchor="start" font-weight="normal" transform="rotate(90 486.7 62.7)">10K</text>
<text x="495.6" y="62.7" font-size="4.2" fill="#5264ec" font-family="Liberation Sans" text-anchor="start" font-weight="normal" transform="rotate(90 495.6 62.7)">R?</text>
<line x1="493" y1="57.7" x2="493" y2="62.7" stroke="#8c8c8c" stroke-width="1.5"/>
<line x1="493" y1="77.8" x2="493" y2="82.8" stroke="#8c8c8c" stroke-width="1.5"/>
<polyline points="493,62.7 493.75,63.12 494.3,63.54 494.5,63.96 494.3,64.38 493.75,64.8 493,65.22 492.25,65.64 491.7,66.06 491.5,66.47 491.7,66.89 492.25,67.31 493,67.73 493.75,68.15 494.3,68.57 494.5,68.99 494.3,69.41 493.75,69.83 493,70.25 492.25,70.67 491.7,71.09 491.5,71.51 491.7,71.93 492.25,72.35 493,72.77 493.75,73.19 494.3,73.61 494.5,74.03 494.3,74.44 493.75,74.86 493,75.28 492.25,75.7 491.7,76.12 491.5,76.54 491.7,76.96 492.25,77.38 493,77.8" stroke="#4050f0" stroke-width="1.3" fill="none" stroke-linejoin="miter"/>
<line x1="493" y1="77.8" x2="493" y2="104.7" stroke="#8c8c8c" stroke-width="1.6"/>
<text x="485" y="78.6" font-size="4.2" fill="#5264ec" font-family="Liberation Sans" text-anchor="start" font-weight="normal" transform="rotate(90 485 78.6)">1uF_16V</text>
<text x="497.5" y="86" font-size="4.2" fill="#5264ec" font-family="Liberation Sans" text-anchor="start" font-weight="normal" transform="rotate(90 497.5 86)">C?</text>
<line x1="488" y1="86.8" x2="498" y2="86.8" stroke="#4050f0" stroke-width="1.4"/>
<line x1="488" y1="89.2" x2="498" y2="89.2" stroke="#4050f0" stroke-width="1.4"/>
<line x1="493" y1="104.7" x2="493" y2="215" stroke="#6e6eba" stroke-width="1.6"/>
<text x="486.7" y="215" font-size="4.2" fill="#5264ec" font-family="Liberation Sans" text-anchor="start" font-weight="normal" transform="rotate(90 486.7 215)">10K</text>
<text x="495.6" y="215" font-size="4.2" fill="#5264ec" font-family="Liberation Sans" text-anchor="start" font-weight="normal" transform="rotate(90 495.6 215)">R?</text>
<line x1="493" y1="210" x2="493" y2="215" stroke="#8c8c8c" stroke-width="1.5"/>
<line x1="493" y1="228" x2="493" y2="233" stroke="#8c8c8c" stroke-width="1.5"/>
<polyline points="493,215 493.75,215.36 494.3,215.72 494.5,216.08 494.3,216.44 493.75,216.81 493,217.17 492.25,217.53 491.7,217.89 491.5,218.25 491.7,218.61 492.25,218.97 493,219.33 493.75,219.69 494.3,220.06 494.5,220.42 494.3,220.78 493.75,221.14 493,221.5 492.25,221.86 491.7,222.22 491.5,222.58 491.7,222.94 492.25,223.31 493,223.67 493.75,224.03 494.3,224.39 494.5,224.75 494.3,225.11 493.75,225.47 493,225.83 492.25,226.19 491.7,226.56 491.5,226.92 491.7,227.28 492.25,227.64 493,228" stroke="#4050f0" stroke-width="1.3" fill="none" stroke-linejoin="miter"/>
<line x1="493" y1="228" x2="493" y2="248" stroke="#6e6eba" stroke-width="1.6"/>
<text x="486.7" y="248" font-size="4.2" fill="#5264ec" font-family="Liberation Sans" text-anchor="start" font-weight="normal" transform="rotate(90 486.7 248)">10K</text>
<text x="495.6" y="248" font-size="4.2" fill="#5264ec" font-family="Liberation Sans" text-anchor="start" font-weight="normal" transform="rotate(90 495.6 248)">R?</text>
<line x1="493" y1="243" x2="493" y2="248" stroke="#8c8c8c" stroke-width="1.5"/>
<line x1="493" y1="262" x2="493" y2="267" stroke="#8c8c8c" stroke-width="1.5"/>
<polyline points="493,248 493.75,248.39 494.3,248.78 494.5,249.17 494.3,249.56 493.75,249.94 493,250.33 492.25,250.72 491.7,251.11 491.5,251.5 491.7,251.89 492.25,252.28 493,252.67 493.75,253.06 494.3,253.44 494.5,253.83 494.3,254.22 493.75,254.61 493,255 492.25,255.39 491.7,255.78 491.5,256.17 491.7,256.56 492.25,256.94 493,257.33 493.75,257.72 494.3,258.11 494.5,258.5 494.3,258.89 493.75,259.28 493,259.67 492.25,260.06 491.7,260.44 491.5,260.83 491.7,261.22 492.25,261.61 493,262" stroke="#4050f0" stroke-width="1.3" fill="none" stroke-linejoin="miter"/>
<line x1="493" y1="262" x2="493" y2="365.7" stroke="#6e6eba" stroke-width="1.6"/>
<line x1="493" y1="239.5" x2="502.5" y2="239.5" stroke="#8c8c8c" stroke-width="1.6"/>
<text x="497.8" y="243.5" font-size="4.2" fill="#5264ec" font-family="Liberation Sans" text-anchor="start" font-weight="normal" transform="rotate(90 497.8 243.5)">2.2uF</text>
<text x="502.7" y="242" font-size="4.2" fill="#5264ec" font-family="Liberation Sans" text-anchor="start" font-weight="normal" transform="rotate(90 502.7 242)">C?</text>
<line x1="503.6" y1="234.5" x2="503.6" y2="244.5" stroke="#4050f0" stroke-width="1.4"/>
<line x1="506" y1="234.5" x2="506" y2="244.5" stroke="#4050f0" stroke-width="1.4"/>
<line x1="507" y1="239.5" x2="517" y2="239.5" stroke="#8c8c8c" stroke-width="1.6"/>
<polyline points="516.7,239.5 516.7,229.8" stroke="#6e6eba" stroke-width="1.6" fill="none" stroke-linejoin="miter"/>
<line x1="513" y1="229.8" x2="516.7" y2="229.8" stroke="#c47c7c" stroke-width="1.3"/>
<polygon points="513,224.6 513,235 507.3,229.8" stroke="#c07070" stroke-width="0.8" fill="#c47c7c"/>
<path d="M493,365.7 A2.6,2.6 0 0 1 493,370.9" stroke="#4050f0" stroke-width="1.1" fill="none"/>
<path d="M493,370.9 A2.6,2.6 0 0 1 493,376.1" stroke="#4050f0" stroke-width="1.1" fill="none"/>
<path d="M493,376.1 A2.6,2.6 0 0 1 493,381.3" stroke="#4050f0" stroke-width="1.1" fill="none"/>
<path d="M493,381.3 A2.6,2.6 0 0 1 493,386.5" stroke="#4050f0" stroke-width="1.1" fill="none"/>
<line x1="498.5" y1="366" x2="498.5" y2="387" stroke="#4050f0" stroke-width="1.3"/>
<line x1="493" y1="386.7" x2="493" y2="576" stroke="#6e6eba" stroke-width="1.6"/>
<line x1="386.5" y1="104.7" x2="493" y2="104.7" stroke="#6e6eba" stroke-width="1.6"/>
<line x1="450" y1="104.7" x2="457.5" y2="104.7" stroke="#ffffff" stroke-width="2"/>
<line x1="453" y1="99.5" x2="453" y2="110" stroke="#4050f0" stroke-width="2.6"/>
<text x="446.5" y="109" font-size="4.2" fill="#5264ec" font-family="Liberation Sans" text-anchor="start" font-weight="normal" transform="rotate(90 446.5 109)">47pF</text>
<text x="451.5" y="108" font-size="4.2" fill="#5264ec" font-family="Liberation Sans" text-anchor="start" font-weight="normal" transform="rotate(90 451.5 108)">C?</text>
<line x1="470" y1="104.7" x2="473" y2="104.7" stroke="#8c8c8c" stroke-width="1.6"/>
<line x1="473" y1="104.7" x2="488" y2="104.7" stroke="#ffffff" stroke-width="2"/>
<text x="479.2" y="107" font-size="4.2" fill="#5264ec" font-family="Liberation Sans" text-anchor="start" font-weight="normal" transform="rotate(90 479.2 107)">10K</text>
<text x="484.4" y="107" font-size="4.2" fill="#5264ec" font-family="Liberation Sans" text-anchor="start" font-weight="normal" transform="rotate(90 484.4 107)">R?</text>
<line x1="468" y1="104.7" x2="473" y2="104.7" stroke="#8c8c8c" stroke-width="1.5"/>
<line x1="488" y1="104.7" x2="493" y2="104.7" stroke="#8c8c8c" stroke-width="1.5"/>
<polyline points="473,104.7 473.42,103.95 473.83,103.4 474.25,103.2 474.67,103.4 475.08,103.95 475.5,104.7 475.92,105.45 476.33,106 476.75,106.2 477.17,106 477.58,105.45 478,104.7 478.42,103.95 478.83,103.4 479.25,103.2 479.67,103.4 480.08,103.95 480.5,104.7 480.92,105.45 481.33,106 481.75,106.2 482.17,106 482.58,105.45 483,104.7 483.42,103.95 483.83,103.4 484.25,103.2 484.67,103.4 485.08,103.95 485.5,104.7 485.92,105.45 486.33,106 486.75,106.2 487.17,106 487.58,105.45 488,104.7" stroke="#4050f0" stroke-width="1.3" fill="none" stroke-linejoin="miter"/>
<line x1="386.5" y1="104.7" x2="386.5" y2="284.5" stroke="#6e6eba" stroke-width="1.6"/>
<line x1="414.7" y1="133.4" x2="493" y2="133.4" stroke="#6e6eba" stroke-width="1.6"/>
<line x1="473" y1="133.4" x2="488" y2="133.4" stroke="#ffffff" stroke-width="2"/>
<text x="479.2" y="135.7" font-size="4.2" fill="#5264ec" font-family="Liberation Sans" text-anchor="start" font-weight="normal" transform="rotate(90 479.2 135.7)">10K</text>
<text x="484.4" y="135.7" font-size="4.2" fill="#5264ec" font-family="Liberation Sans" text-anchor="start" font-weight="normal" transform="rotate(90 484.4 135.7)">R?</text>
<line x1="468" y1="133.4" x2="473" y2="133.4" stroke="#8c8c8c" stroke-width="1.5"/>
<line x1="488" y1="133.4" x2="493" y2="133.4" stroke="#8c8c8c" stroke-width="1.5"/>
<polyline points="473,133.4 473.42,132.65 473.83,132.1 474.25,131.9 474.67,132.1 475.08,132.65 475.5,133.4 475.92,134.15 476.33,134.7 476.75,134.9 477.17,134.7 477.58,134.15 478,133.4 478.42,132.65 478.83,132.1 479.25,131.9 479.67,132.1 480.08,132.65 480.5,133.4 480.92,134.15 481.33,134.7 481.75,134.9 482.17,134.7 482.58,134.15 483,133.4 483.42,132.65 483.83,132.1 484.25,131.9 484.67,132.1 485.08,132.65 485.5,133.4 485.92,134.15 486.33,134.7 486.75,134.9 487.17,134.7 487.58,134.15 488,133.4" stroke="#4050f0" stroke-width="1.3" fill="none" stroke-linejoin="miter"/>
<line x1="414.7" y1="123" x2="434.6" y2="123" stroke="#6e6eba" stroke-width="1.6"/>
<polygon points="410.7,118.2 410.7,127.8 405.2,123" stroke="#b04848" stroke-width="1.1" fill="none"/>
<line x1="410.7" y1="123" x2="414.7" y2="123" stroke="#b04848" stroke-width="1.2"/>
<polygon points="429.4,120.6 429.4,125.4 424.6,123" stroke="#4050f0" stroke-width="0.8" fill="#4050f0"/>
<line x1="424.6" y1="120.6" x2="424.6" y2="125.4" stroke="#4050f0" stroke-width="1.1"/>
<polygon points="424.6,131 424.6,135.8 429.4,133.4" stroke="#4050f0" stroke-width="0.8" fill="#4050f0"/>
<line x1="429.4" y1="131" x2="429.4" y2="135.8" stroke="#4050f0" stroke-width="1.1"/>
<line x1="414.7" y1="123" x2="414.7" y2="152.4" stroke="#6e6eba" stroke-width="1.6"/>
<line x1="434.6" y1="123" x2="434.6" y2="152.4" stroke="#6e6eba" stroke-width="1.6"/>
<polyline points="414.7,152.4 420,152.4 420,162" stroke="#8c8c8c" stroke-width="1.6" fill="none" stroke-linejoin="miter"/>
<polyline points="434.6,152.4 430.3,152.4 430.3,162" stroke="#8c8c8c" stroke-width="1.6" fill="none" stroke-linejoin="miter"/>
<polyline points="434.6,152.4 482.7,152.4 482.7,210.3" stroke="#6e6eba" stroke-width="1.6" fill="none" stroke-linejoin="miter"/>
<polygon points="415.7,162 434.6,162 425,181.7" stroke="#4050f0" stroke-width="1.2" fill="none"/>
<line x1="418.5" y1="165.5" x2="421.5" y2="165.5" stroke="#4050f0" stroke-width="0.8"/>
<line x1="420" y1="164" x2="420" y2="167" stroke="#4050f0" stroke-width="0.8"/>
<line x1="430.3" y1="164" x2="430.3" y2="167.5" stroke="#4050f0" stroke-width="0.9"/>
<line x1="401" y1="171.5" x2="420.5" y2="171.5" stroke="#8c8c8c" stroke-width="1.6"/>
<line x1="429.5" y1="171.5" x2="444" y2="171.5" stroke="#8c8c8c" stroke-width="1.6"/>
<text x="394.7" y="152" font-size="4.2" fill="#5264ec" font-family="Liberation Sans" text-anchor="start" font-weight="normal" transform="rotate(90 394.7 152)">10K</text>
<text x="403.6" y="152" font-size="4.2" fill="#5264ec" font-family="Liberation Sans" text-anchor="start" font-weight="normal" transform="rotate(90 403.6 152)">R?</text>
<polyline points="401,152 401.75,152.42 402.3,152.83 402.5,153.25 402.3,153.67 401.75,154.08 401,154.5 400.25,154.92 399.7,155.33 399.5,155.75 399.7,156.17 400.25,156.58 401,157 401.75,157.42 402.3,157.83 402.5,158.25 402.3,158.67 401.75,159.08 401,159.5 400.25,159.92 399.7,160.33 399.5,160.75 399.7,161.17 400.25,161.58 401,162 401.75,162.42 402.3,162.83 402.5,163.25 402.3,163.67 401.75,164.08 401,164.5 400.25,164.92 399.7,165.33 399.5,165.75 399.7,166.17 400.25,166.58 401,167" stroke="#4050f0" stroke-width="1.3" fill="none" stroke-linejoin="miter"/>
<line x1="401" y1="147" x2="401" y2="152" stroke="#8c8c8c" stroke-width="1.5"/>
<line x1="401" y1="167" x2="401" y2="178" stroke="#8c8c8c" stroke-width="1.5"/>
<line x1="401" y1="143" x2="401" y2="147" stroke="#b04848" stroke-width="1.3"/>
<line x1="398.3" y1="143" x2="403.7" y2="143" stroke="#b04848" stroke-width="1.5"/>
<text x="393" y="170.8" font-size="4.2" fill="#5264ec" font-family="Liberation Sans" text-anchor="start" font-weight="normal" transform="rotate(90 393 170.8)">1uF_16V</text>
<text x="405.5" y="178.2" font-size="4.2" fill="#5264ec" font-family="Liberation Sans" text-anchor="start" font-weight="normal" transform="rotate(90 405.5 178.2)">C?</text>
<line x1="396" y1="179" x2="406" y2="179" stroke="#4050f0" stroke-width="1.4"/>
<line x1="396" y1="181.4" x2="406" y2="181.4" stroke="#4050f0" stroke-width="1.4"/>
<polyline points="401,182 401,190.8 396.5,190.8" stroke="#8c8c8c" stroke-width="1.6" fill="none" stroke-linejoin="miter"/>
<polygon points="396.5,186 396.5,195.6 391,190.8" stroke="#b04848" stroke-width="1.1" fill="none"/>
<line x1="444" y1="171.5" x2="450" y2="171.5" stroke="#8c8c8c" stroke-width="1.6"/>
<text x="455.7" y="173.8" font-size="4.2" fill="#5264ec" font-family="Liberation Sans" text-anchor="start" font-weight="normal" transform="rotate(90 455.7 173.8)">10K</text>
<text x="460.9" y="173.8" font-size="4.2" fill="#5264ec" font-family="Liberation Sans" text-anchor="start" font-weight="normal" transform="rotate(90 460.9 173.8)">R?</text>
<line x1="445" y1="171.5" x2="450" y2="171.5" stroke="#8c8c8c" stroke-width="1.5"/>
<line x1="464" y1="171.5" x2="469" y2="171.5" stroke="#8c8c8c" stroke-width="1.5"/>
<polyline points="450,171.5 450.39,170.75 450.78,170.2 451.17,170 451.56,170.2 451.94,170.75 452.33,171.5 452.72,172.25 453.11,172.8 453.5,173 453.89,172.8 454.28,172.25 454.67,171.5 455.06,170.75 455.44,170.2 455.83,170 456.22,170.2 456.61,170.75 457,171.5 457.39,172.25 457.78,172.8 458.17,173 458.56,172.8 458.94,172.25 459.33,171.5 459.72,170.75 460.11,170.2 460.5,170 460.89,170.2 461.28,170.75 461.67,171.5 462.06,172.25 462.44,172.8 462.83,173 463.22,172.8 463.61,172.25 464,171.5" stroke="#4050f0" stroke-width="1.3" fill="none" stroke-linejoin="miter"/>
<line x1="464" y1="171.5" x2="473" y2="171.5" stroke="#8c8c8c" stroke-width="1.6"/>
<line x1="473" y1="168.5" x2="473" y2="174.5" stroke="#b04848" stroke-width="1.1"/>
<line x1="444" y1="171.5" x2="444" y2="180" stroke="#8c8c8c" stroke-width="1.6"/>
<text x="436.2" y="170.8" font-size="4.2" fill="#5264ec" font-family="Liberation Sans" text-anchor="start" font-weight="normal" transform="rotate(90 436.2 170.8)">1uF_16V</text>
<text x="448.7" y="178.2" font-size="4.2" fill="#5264ec" font-family="Liberation Sans" text-anchor="start" font-weight="normal" transform="rotate(90 448.7 178.2)">C?</text>
<line x1="439.2" y1="179" x2="449.2" y2="179" stroke="#4050f0" stroke-width="1.4"/>
<line x1="439.2" y1="181.4" x2="449.2" y2="181.4" stroke="#4050f0" stroke-width="1.4"/>
<polyline points="444.2,182 444.2,190.8 440,190.8" stroke="#8c8c8c" stroke-width="1.6" fill="none" stroke-linejoin="miter"/>
<polygon points="440,186 440,195.6 434.5,190.8" stroke="#b04848" stroke-width="1.1" fill="none"/>
<line x1="424.3" y1="181.7" x2="424.3" y2="253.5" stroke="#6e6eba" stroke-width="1.6"/>
<line x1="424.3" y1="210.3" x2="482.7" y2="210.3" stroke="#6e6eba" stroke-width="1.6"/>
<line x1="439" y1="210.3" x2="446" y2="210.3" stroke="#ffffff" stroke-width="2"/>
<line x1="442.5" y1="205" x2="442.5" y2="215.5" stroke="#4050f0" stroke-width="2.6"/>
<text x="436" y="214.5" font-size="4.2" fill="#5264ec" font-family="Liberation Sans" text-anchor="start" font-weight="normal" transform="rotate(90 436 214.5)">47pF</text>
<text x="441" y="214.5" font-size="4.2" fill="#5264ec" font-family="Liberation Sans" text-anchor="start" font-weight="normal" transform="rotate(90 441 214.5)">C?</text>
<line x1="464" y1="210.3" x2="471" y2="210.3" stroke="#ffffff" stroke-width="2"/>
<text x="460.5" y="214.3" font-size="4.2" fill="#5264ec" font-family="Liberation Sans" text-anchor="start" font-weight="normal" transform="rotate(90 460.5 214.3)">2.2uF</text>
<text x="465.4" y="212.8" font-size="4.2" fill="#5264ec" font-family="Liberation Sans" text-anchor="start" font-weight="normal" transform="rotate(90 465.4 212.8)">C?</text>
<line x1="466.3" y1="205.3" x2="466.3" y2="215.3" stroke="#4050f0" stroke-width="1.4"/>
<line x1="468.7" y1="205.3" x2="468.7" y2="215.3" stroke="#4050f0" stroke-width="1.4"/>
<line x1="454.2" y1="210.3" x2="454.2" y2="215" stroke="#8c8c8c" stroke-width="1.6"/>
<text x="447.9" y="215" font-size="4.2" fill="#5264ec" font-family="Liberation Sans" text-anchor="start" font-weight="normal" transform="rotate(90 447.9 215)">10K</text>
<text x="456.8" y="215" font-size="4.2" fill="#5264ec" font-family="Liberation Sans" text-anchor="start" font-weight="normal" transform="rotate(90 456.8 215)">R?</text>
<line x1="454.2" y1="210" x2="454.2" y2="215" stroke="#8c8c8c" stroke-width="1.5"/>
<line x1="454.2" y1="229" x2="454.2" y2="234" stroke="#8c8c8c" stroke-width="1.5"/>
<polyline points="454.2,215 454.95,215.39 455.5,215.78 455.7,216.17 455.5,216.56 454.95,216.94 454.2,217.33 453.45,217.72 452.9,218.11 452.7,218.5 452.9,218.89 453.45,219.28 454.2,219.67 454.95,220.06 455.5,220.44 455.7,220.83 455.5,221.22 454.95,221.61 454.2,222 453.45,222.39 452.9,222.78 452.7,223.17 452.9,223.56 453.45,223.94 454.2,224.33 454.95,224.72 455.5,225.11 455.7,225.5 455.5,225.89 454.95,226.28 454.2,226.67 453.45,227.06 452.9,227.44 452.7,227.83 452.9,228.22 453.45,228.61 454.2,229" stroke="#4050f0" stroke-width="1.3" fill="none" stroke-linejoin="miter"/>
<line x1="454.2" y1="229" x2="454.2" y2="243" stroke="#8c8c8c" stroke-width="1.6"/>
<polyline points="454.2,234.8 473.3,234.8 473.3,262.8 444.2,262.8 444.2,249.3 451,249.3" stroke="#6e6eba" stroke-width="1.6" fill="none" stroke-linejoin="miter"/>
<polygon points="451,247.5 451,251.1 453.5,249.3" stroke="#4050f0" stroke-width="0.6" fill="#4050f0"/>
<text x="447.9" y="243" font-size="4.2" fill="#5264ec" font-family="Liberation Sans" text-anchor="start" font-weight="normal" transform="rotate(90 447.9 243)">10K</text>
<text x="456.8" y="243" font-size="4.2" fill="#5264ec" font-family="Liberation Sans" text-anchor="start" font-weight="normal" transform="rotate(90 456.8 243)">R?</text>
<line x1="454.2" y1="238" x2="454.2" y2="243" stroke="#8c8c8c" stroke-width="1.5"/>
<line x1="454.2" y1="258" x2="454.2" y2="263" stroke="#8c8c8c" stroke-width="1.5"/>
<polyline points="454.2,243 454.95,243.42 455.5,243.83 455.7,244.25 455.5,244.67 454.95,245.08 454.2,245.5 453.45,245.92 452.9,246.33 452.7,246.75 452.9,247.17 453.45,247.58 454.2,248 454.95,248.42 455.5,248.83 455.7,249.25 455.5,249.67 454.95,250.08 454.2,250.5 453.45,250.92 452.9,251.33 452.7,251.75 452.9,252.17 453.45,252.58 454.2,253 454.95,253.42 455.5,253.83 455.7,254.25 455.5,254.67 454.95,255.08 454.2,255.5 453.45,255.92 452.9,256.33 452.7,256.75 452.9,257.17 453.45,257.58 454.2,258" stroke="#4050f0" stroke-width="1.3" fill="none" stroke-linejoin="miter"/>
<line x1="454.2" y1="258" x2="454.2" y2="262.8" stroke="#8c8c8c" stroke-width="1.6"/>
<line x1="473.3" y1="247" x2="473.3" y2="258" stroke="#ffffff" stroke-width="2"/>
<text x="467" y="247" font-size="4.2" fill="#5264ec" font-family="Liberation Sans" text-anchor="start" font-weight="normal" transform="rotate(90 467 247)">10K</text>
<text x="475.9" y="247" font-size="4.2" fill="#5264ec" font-family="Liberation Sans" text-anchor="start" font-weight="normal" transform="rotate(90 475.9 247)">R?</text>
<line x1="473.3" y1="242" x2="473.3" y2="247" stroke="#8c8c8c" stroke-width="1.5"/>
<line x1="473.3" y1="258" x2="473.3" y2="263" stroke="#8c8c8c" stroke-width="1.5"/>
<polyline points="473.3,247 474.05,247.31 474.6,247.61 474.8,247.92 474.6,248.22 474.05,248.53 473.3,248.83 472.55,249.14 472,249.44 471.8,249.75 472,250.06 472.55,250.36 473.3,250.67 474.05,250.97 474.6,251.28 474.8,251.58 474.6,251.89 474.05,252.19 473.3,252.5 472.55,252.81 472,253.11 471.8,253.42 472,253.72 472.55,254.03 473.3,254.33 474.05,254.64 474.6,254.94 474.8,255.25 474.6,255.56 474.05,255.86 473.3,256.17 472.55,256.47 472,256.78 471.8,257.08 472,257.39 472.55,257.69 473.3,258" stroke="#4050f0" stroke-width="1.3" fill="none" stroke-linejoin="miter"/>
<line x1="441.8" y1="262.8" x2="444.2" y2="262.8" stroke="#8c8c8c" stroke-width="1.6"/>
<polygon points="441.8,258 441.8,267.6 436.3,262.8" stroke="#b04848" stroke-width="1.1" fill="none"/>
<text x="418" y="253.5" font-size="4.2" fill="#5264ec" font-family="Liberation Sans" text-anchor="start" font-weight="normal" transform="rotate(90 418 253.5)">10K</text>
<text x="426.9" y="253.5" font-size="4.2" fill="#5264ec" font-family="Liberation Sans" text-anchor="start" font-weight="normal" transform="rotate(90 426.9 253.5)">R?</text>
<line x1="424.3" y1="248.5" x2="424.3" y2="253.5" stroke="#8c8c8c" stroke-width="1.5"/>
<line x1="424.3" y1="267.5" x2="424.3" y2="272.5" stroke="#8c8c8c" stroke-width="1.5"/>
<polyline points="424.3,253.5 425.05,253.89 425.6,254.28 425.8,254.67 425.6,255.06 425.05,255.44 424.3,255.83 423.55,256.22 423,256.61 422.8,257 423,257.39 423.55,257.78 424.3,258.17 425.05,258.56 425.6,258.94 425.8,259.33 425.6,259.72 425.05,260.11 424.3,260.5 423.55,260.89 423,261.28 422.8,261.67 423,262.06 423.55,262.44 424.3,262.83 425.05,263.22 425.6,263.61 425.8,264 425.6,264.39 425.05,264.78 424.3,265.17 423.55,265.56 423,265.94 422.8,266.33 423,266.72 423.55,267.11 424.3,267.5" stroke="#4050f0" stroke-width="1.3" fill="none" stroke-linejoin="miter"/>
<line x1="424.3" y1="267.5" x2="424.3" y2="547.6" stroke="#6e6eba" stroke-width="1.6"/>
<line x1="424.3" y1="277.5" x2="473.7" y2="277.5" stroke="#6e6eba" stroke-width="1.6"/>
<line x1="431" y1="277.5" x2="447" y2="277.5" stroke="#ffffff" stroke-width="2"/>
<text x="437.7" y="279.8" font-size="4.2" fill="#5264ec" font-family="Liberation Sans" text-anchor="start" font-weight="normal" transform="rotate(90 437.7 279.8)">10K</text>
<text x="442.9" y="279.8" font-size="4.2" fill="#5264ec" font-family="Liberation Sans" text-anchor="start" font-weight="normal" transform="rotate(90 442.9 279.8)">R?</text>
<line x1="427" y1="277.5" x2="432" y2="277.5" stroke="#8c8c8c" stroke-width="1.5"/>
<line x1="446" y1="277.5" x2="451" y2="277.5" stroke="#8c8c8c" stroke-width="1.5"/>
<polyline points="432,277.5 432.39,276.75 432.78,276.2 433.17,276 433.56,276.2 433.94,276.75 434.33,277.5 434.72,278.25 435.11,278.8 435.5,279 435.89,278.8 436.28,278.25 436.67,277.5 437.06,276.75 437.44,276.2 437.83,276 438.22,276.2 438.61,276.75 439,277.5 439.39,278.25 439.78,278.8 440.17,279 440.56,278.8 440.94,278.25 441.33,277.5 441.72,276.75 442.11,276.2 442.5,276 442.89,276.2 443.28,276.75 443.67,277.5 444.06,278.25 444.44,278.8 444.83,279 445.22,278.8 445.61,278.25 446,277.5" stroke="#4050f0" stroke-width="1.3" fill="none" stroke-linejoin="miter"/>
<line x1="455" y1="277.5" x2="471" y2="277.5" stroke="#ffffff" stroke-width="2"/>
<text x="461.2" y="279.8" font-size="4.2" fill="#5264ec" font-family="Liberation Sans" text-anchor="start" font-weight="normal" transform="rotate(90 461.2 279.8)">10K</text>
<text x="466.4" y="279.8" font-size="4.2" fill="#5264ec" font-family="Liberation Sans" text-anchor="start" font-weight="normal" transform="rotate(90 466.4 279.8)">R?</text>
<line x1="450" y1="277.5" x2="455" y2="277.5" stroke="#8c8c8c" stroke-width="1.5"/>
<line x1="470" y1="277.5" x2="475" y2="277.5" stroke="#8c8c8c" stroke-width="1.5"/>
<polyline points="455,277.5 455.42,276.75 455.83,276.2 456.25,276 456.67,276.2 457.08,276.75 457.5,277.5 457.92,278.25 458.33,278.8 458.75,279 459.17,278.8 459.58,278.25 460,277.5 460.42,276.75 460.83,276.2 461.25,276 461.67,276.2 462.08,276.75 462.5,277.5 462.92,278.25 463.33,278.8 463.75,279 464.17,278.8 464.58,278.25 465,277.5 465.42,276.75 465.83,276.2 466.25,276 466.67,276.2 467.08,276.75 467.5,277.5 467.92,278.25 468.33,278.8 468.75,279 469.17,278.8 469.58,278.25 470,277.5" stroke="#4050f0" stroke-width="1.3" fill="none" stroke-linejoin="miter"/>
<line x1="473.7" y1="277.5" x2="477.5" y2="277.5" stroke="#8c8c8c" stroke-width="1.6"/>
<line x1="478" y1="274.5" x2="478" y2="280.5" stroke="#b04848" stroke-width="1.1"/>
<line x1="408" y1="292.5" x2="473.7" y2="292.5" stroke="#6e6eba" stroke-width="1.6"/>
<polygon points="408,287.7 408,297.3 402.5,292.5" stroke="#b04848" stroke-width="1.1" fill="none"/>
<polygon points="420.4,290.1 420.4,294.9 415.6,292.5" stroke="#4050f0" stroke-width="0.8" fill="#4050f0"/>
<line x1="415.6" y1="290.1" x2="415.6" y2="294.9" stroke="#4050f0" stroke-width="1.1"/>
<polygon points="434.4,290.1 434.4,294.9 429.6,292.5" stroke="#4050f0" stroke-width="0.8" fill="#4050f0"/>
<line x1="429.6" y1="290.1" x2="429.6" y2="294.9" stroke="#4050f0" stroke-width="1.1"/>
<line x1="473.7" y1="277.5" x2="473.7" y2="292.5" stroke="#6e6eba" stroke-width="1.6"/>
<circle cx="386.2" cy="286" r="1.6" fill="none" stroke="#4050f0" stroke-width="1"/>
<polygon points="386.2,287.6 396,307 376.8,307" stroke="#4050f0" stroke-width="1.2" fill="none"/>
<line x1="368" y1="301.6" x2="379.5" y2="301.6" stroke="#8c8c8c" stroke-width="1.6"/>
<polygon points="368,296.8 368,306.4 362.5,301.6" stroke="#b04848" stroke-width="1.1" fill="none"/>
<line x1="393" y1="301.6" x2="449.9" y2="301.6" stroke="#6e6eba" stroke-width="1.6"/>
<line x1="449.9" y1="277.5" x2="449.9" y2="312.5" stroke="#6e6eba" stroke-width="1.6"/>
<text x="441.9" y="305.1" font-size="4.2" fill="#5264ec" font-family="Liberation Sans" text-anchor="start" font-weight="normal" transform="rotate(90 441.9 305.1)">1uF_16V</text>
<text x="454.4" y="312.5" font-size="4.2" fill="#5264ec" font-family="Liberation Sans" text-anchor="start" font-weight="normal" transform="rotate(90 454.4 312.5)">C?</text>
<line x1="444.9" y1="313.3" x2="454.9" y2="313.3" stroke="#4050f0" stroke-width="1.4"/>
<line x1="444.9" y1="315.7" x2="454.9" y2="315.7" stroke="#4050f0" stroke-width="1.4"/>
<polyline points="449.9,316 449.9,325.3 446,325.3" stroke="#8c8c8c" stroke-width="1.6" fill="none" stroke-linejoin="miter"/>
<polygon points="446,320.5 446,330.1 440.5,325.3" stroke="#b04848" stroke-width="1.1" fill="none"/>
<line x1="386.2" y1="307" x2="386.2" y2="316" stroke="#8c8c8c" stroke-width="1.6"/>
<text x="379.9" y="316" font-size="4.2" fill="#5264ec" font-family="Liberation Sans" text-anchor="start" font-weight="normal" transform="rotate(90 379.9 316)">10K</text>
<text x="388.8" y="316" font-size="4.2" fill="#5264ec" font-family="Liberation Sans" text-anchor="start" font-weight="normal" transform="rotate(90 388.8 316)">R?</text>
<line x1="386.2" y1="311" x2="386.2" y2="316" stroke="#8c8c8c" stroke-width="1.5"/>
<line x1="386.2" y1="330" x2="386.2" y2="335" stroke="#8c8c8c" stroke-width="1.5"/>
<polyline points="386.2,316 386.95,316.39 387.5,316.78 387.7,317.17 387.5,317.56 386.95,317.94 386.2,318.33 385.45,318.72 384.9,319.11 384.7,319.5 384.9,319.89 385.45,320.28 386.2,320.67 386.95,321.06 387.5,321.44 387.7,321.83 387.5,322.22 386.95,322.61 386.2,323 385.45,323.39 384.9,323.78 384.7,324.17 384.9,324.56 385.45,324.94 386.2,325.33 386.95,325.72 387.5,326.11 387.7,326.5 387.5,326.89 386.95,327.28 386.2,327.67 385.45,328.06 384.9,328.44 384.7,328.83 384.9,329.22 385.45,329.61 386.2,330" stroke="#4050f0" stroke-width="1.3" fill="none" stroke-linejoin="miter"/>
<line x1="386.2" y1="330" x2="386.2" y2="337" stroke="#8c8c8c" stroke-width="1.6"/>
<polygon points="383,339.5 386.2,337 389.4,339.5 389.4,348 386.2,350.5 383,348" stroke="#c06030" stroke-width="1.0" fill="#f0dc62"/>
<text x="385.1" y="339.5" font-size="2.8" fill="#b89850" font-family="Liberation Sans" transform="rotate(90 385.1 339.5)" textLength="8.5" lengthAdjust="spacingAndGlyphs">SD</text>
<line x1="465" y1="436.7" x2="477" y2="436.7" stroke="#6e6eba" stroke-width="1.6"/>
<line x1="477" y1="436.7" x2="481" y2="436.7" stroke="#8c8c8c" stroke-width="1.5"/>
<polygon points="465,431.9 465,441.5 459.5,436.7" stroke="#c07070" stroke-width="0.8" fill="#c47c7c"/>
<line x1="482.8" y1="431.7" x2="482.8" y2="441.7" stroke="#4050f0" stroke-width="1.4"/>
<line x1="485.2" y1="431.7" x2="485.2" y2="441.7" stroke="#4050f0" stroke-width="1.4"/>
<line x1="487" y1="436.7" x2="493" y2="436.7" stroke="#8c8c8c" stroke-width="1.6"/>
<polygon points="493,446.8 495.5,443.8 509.1,443.8 511.6,446.8 509.1,449.8 495.5,449.8" stroke="#c06030" stroke-width="1.0" fill="#f0dc62"/>
<line x1="451" y1="465.5" x2="458" y2="465.5" stroke="#8c8c8c" stroke-width="1.6"/>
<polygon points="451,460.7 451,470.3 445.5,465.5" stroke="#c07070" stroke-width="0.8" fill="#c47c7c"/>
<text x="464.2" y="467.8" font-size="4.2" fill="#5264ec" font-family="Liberation Sans" text-anchor="start" font-weight="normal" transform="rotate(90 464.2 467.8)">10K</text>
<text x="469.4" y="467.8" font-size="4.2" fill="#5264ec" font-family="Liberation Sans" text-anchor="start" font-weight="normal" transform="rotate(90 469.4 467.8)">R?</text>
<line x1="453" y1="465.5" x2="458" y2="465.5" stroke="#8c8c8c" stroke-width="1.5"/>
<line x1="473" y1="465.5" x2="478" y2="465.5" stroke="#8c8c8c" stroke-width="1.5"/>
<polyline points="458,465.5 458.42,464.75 458.83,464.2 459.25,464 459.67,464.2 460.08,464.75 460.5,465.5 460.92,466.25 461.33,466.8 461.75,467 462.17,466.8 462.58,466.25 463,465.5 463.42,464.75 463.83,464.2 464.25,464 464.67,464.2 465.08,464.75 465.5,465.5 465.92,466.25 466.33,466.8 466.75,467 467.17,466.8 467.58,466.25 468,465.5 468.42,464.75 468.83,464.2 469.25,464 469.67,464.2 470.08,464.75 470.5,465.5 470.92,466.25 471.33,466.8 471.75,467 472.17,466.8 472.58,466.25 473,465.5" stroke="#4050f0" stroke-width="1.3" fill="none" stroke-linejoin="miter"/>
<line x1="473" y1="465.5" x2="481" y2="465.5" stroke="#8c8c8c" stroke-width="1.6"/>
<text x="477" y="469.5" font-size="4.2" fill="#5264ec" font-family="Liberation Sans" text-anchor="start" font-weight="normal" transform="rotate(90 477 469.5)">2.2uF</text>
<text x="481.9" y="468" font-size="4.2" fill="#5264ec" font-family="Liberation Sans" text-anchor="start" font-weight="normal" transform="rotate(90 481.9 468)">C?</text>
<line x1="482.8" y1="460.5" x2="482.8" y2="470.5" stroke="#4050f0" stroke-width="1.4"/>
<line x1="485.2" y1="460.5" x2="485.2" y2="470.5" stroke="#4050f0" stroke-width="1.4"/>
<line x1="487" y1="465.5" x2="493" y2="465.5" stroke="#8c8c8c" stroke-width="1.6"/>
<line x1="493" y1="489.9" x2="514" y2="489.9" stroke="#8c8c8c" stroke-width="1.6"/>
<polygon points="502.4,487.5 502.4,492.3 497.6,489.9" stroke="#4050f0" stroke-width="0.8" fill="#4050f0"/>
<line x1="497.6" y1="487.5" x2="497.6" y2="492.3" stroke="#4050f0" stroke-width="1.1"/>
<line x1="514" y1="486.9" x2="514" y2="492.9" stroke="#b04848" stroke-width="1.1"/>
<line x1="473" y1="495" x2="493" y2="495" stroke="#8c8c8c" stroke-width="1.6"/>
<polygon points="482.6,492.6 482.6,497.4 487.4,495" stroke="#4050f0" stroke-width="0.8" fill="#4050f0"/>
<line x1="487.4" y1="492.6" x2="487.4" y2="497.4" stroke="#4050f0" stroke-width="1.1"/>
<line x1="473" y1="492" x2="473" y2="498" stroke="#b04848" stroke-width="1.1"/>
<polyline points="493,509.3 449.3,509.3 449.3,615" stroke="#6e6eba" stroke-width="1.6" fill="none" stroke-linejoin="miter"/>
<line x1="468.5" y1="523.9" x2="493" y2="523.9" stroke="#6e6eba" stroke-width="1.6"/>
<line x1="472" y1="523.9" x2="489" y2="523.9" stroke="#ffffff" stroke-width="2"/>
<text x="479.2" y="526.2" font-size="4.2" fill="#5264ec" font-family="Liberation Sans" text-anchor="start" font-weight="normal" transform="rotate(90 479.2 526.2)">10K</text>
<text x="484.4" y="526.2" font-size="4.2" fill="#5264ec" font-family="Liberation Sans" text-anchor="start" font-weight="normal" transform="rotate(90 484.4 526.2)">R?</text>
<line x1="468" y1="523.9" x2="473" y2="523.9" stroke="#8c8c8c" stroke-width="1.5"/>
<line x1="488" y1="523.9" x2="493" y2="523.9" stroke="#8c8c8c" stroke-width="1.5"/>
<polyline points="473,523.9 473.42,523.15 473.83,522.6 474.25,522.4 474.67,522.6 475.08,523.15 475.5,523.9 475.92,524.65 476.33,525.2 476.75,525.4 477.17,525.2 477.58,524.65 478,523.9 478.42,523.15 478.83,522.6 479.25,522.4 479.67,522.6 480.08,523.15 480.5,523.9 480.92,524.65 481.33,525.2 481.75,525.4 482.17,525.2 482.58,524.65 483,523.9 483.42,523.15 483.83,522.6 484.25,522.4 484.67,522.6 485.08,523.15 485.5,523.9 485.92,524.65 486.33,525.2 486.75,525.4 487.17,525.2 487.58,524.65 488,523.9" stroke="#4050f0" stroke-width="1.3" fill="none" stroke-linejoin="miter"/>
<line x1="468.5" y1="543.2" x2="493" y2="543.2" stroke="#8c8c8c" stroke-width="1.6"/>
<text x="477" y="547.2" font-size="4.2" fill="#5264ec" font-family="Liberation Sans" text-anchor="start" font-weight="normal" transform="rotate(90 477 547.2)">2.2uF</text>
<text x="481.9" y="545.7" font-size="4.2" fill="#5264ec" font-family="Liberation Sans" text-anchor="start" font-weight="normal" transform="rotate(90 481.9 545.7)">C?</text>
<line x1="482.8" y1="538.2" x2="482.8" y2="548.2" stroke="#4050f0" stroke-width="1.4"/>
<line x1="485.2" y1="538.2" x2="485.2" y2="548.2" stroke="#4050f0" stroke-width="1.4"/>
<line x1="468.5" y1="523.9" x2="468.5" y2="562.4" stroke="#6e6eba" stroke-width="1.6"/>
<line x1="465" y1="562.4" x2="488.3" y2="562.4" stroke="#6e6eba" stroke-width="1.6"/>
<polygon points="465,557.6 465,567.2 459.5,562.4" stroke="#c07070" stroke-width="0.8" fill="#c47c7c"/>
<line x1="488.3" y1="562.4" x2="488.3" y2="567.6" stroke="#8c8c8c" stroke-width="1.6"/>
<line x1="493" y1="562" x2="493" y2="567.6" stroke="#8c8c8c" stroke-width="1.6"/>
<rect x="483.2" y="567.6" width="14.7" height="8.6" fill="#fbf39a" stroke="#c05030" stroke-width="1.1"/>
<text x="486" y="573.5" font-size="3" fill="#806040" font-family="Liberation Sans" text-anchor="start" font-weight="normal">1 2</text>
<text x="422.2" y="108" font-size="4.2" fill="#5264ec" font-family="Liberation Sans" text-anchor="start" font-weight="normal" transform="rotate(90 422.2 108)">1N4148</text>
<text x="427.3" y="110" font-size="4.2" fill="#5264ec" font-family="Liberation Sans" text-anchor="start" font-weight="normal" transform="rotate(90 427.3 110)">D?</text>
<text x="422.2" y="136.5" font-size="4.2" fill="#5264ec" font-family="Liberation Sans" text-anchor="start" font-weight="normal" transform="rotate(90 422.2 136.5)">1N4148</text>
<text x="427.3" y="137" font-size="4.2" fill="#5264ec" font-family="Liberation Sans" text-anchor="start" font-weight="normal" transform="rotate(90 427.3 137)">D?</text>
<text x="416" y="175" font-size="4.2" fill="#5264ec" font-family="Liberation Sans" text-anchor="start" font-weight="normal" transform="rotate(90 416 175)">OPA2134</text>
<text x="431.5" y="176" font-size="4.2" fill="#5264ec" font-family="Liberation Sans" text-anchor="start" font-weight="normal" transform="rotate(90 431.5 176)">U?</text>
<text x="402.5" y="135" font-size="4" fill="#b04848" font-family="Liberation Sans" text-anchor="start" font-weight="normal" transform="rotate(90 402.5 135)">5V</text>
<text x="475" y="167.5" font-size="4" fill="#b04848" font-family="Liberation Sans" text-anchor="start" font-weight="normal" transform="rotate(90 475 167.5)">-5V</text>
<text x="416" y="169" font-size="3" fill="#707070" font-family="Liberation Sans" text-anchor="start" font-weight="normal">4</text>
<text x="435" y="169" font-size="3" fill="#707070" font-family="Liberation Sans" text-anchor="start" font-weight="normal">8</text>
<text x="421.5" y="160" font-size="3" fill="#707070" font-family="Liberation Sans" text-anchor="start" font-weight="normal">3</text>
<text x="431.5" y="160" font-size="3" fill="#707070" font-family="Liberation Sans" text-anchor="start" font-weight="normal">2</text>
<text x="426" y="186" font-size="3" fill="#707070" font-family="Liberation Sans" text-anchor="start" font-weight="normal">1</text>
<text x="439" y="243" font-size="4.2" fill="#5264ec" font-family="Liberation Sans" text-anchor="start" font-weight="normal" transform="rotate(90 439 243)">P</text>
<text x="376" y="277" font-size="4.2" fill="#5264ec" font-family="Liberation Sans" text-anchor="start" font-weight="normal" transform="rotate(90 376 277)">LMV331_5V</text>
<text x="381" y="277.5" font-size="4.2" fill="#5264ec" font-family="Liberation Sans" text-anchor="start" font-weight="normal" transform="rotate(90 381 277.5)">U?</text>
<text x="413" y="295.5" font-size="4.2" fill="#5264ec" font-family="Liberation Sans" text-anchor="start" font-weight="normal" transform="rotate(90 413 295.5)">1N4148</text>
<text x="418.3" y="295.5" font-size="4.2" fill="#5264ec" font-family="Liberation Sans" text-anchor="start" font-weight="normal" transform="rotate(90 418.3 295.5)">D?</text>
<text x="427.5" y="295.5" font-size="4.2" fill="#5264ec" font-family="Liberation Sans" text-anchor="start" font-weight="normal" transform="rotate(90 427.5 295.5)">1N4148</text>
<text x="432.5" y="295.5" font-size="4.2" fill="#5264ec" font-family="Liberation Sans" text-anchor="start" font-weight="normal" transform="rotate(90 432.5 295.5)">D?</text>
<text x="480" y="272.5" font-size="4" fill="#b04848" font-family="Liberation Sans" text-anchor="start" font-weight="normal" transform="rotate(90 480 272.5)">5V</text>
<text x="475" y="286" font-size="4" fill="#b04848" font-family="Liberation Sans" text-anchor="start" font-weight="normal" transform="rotate(90 475 286)">5V</text>
<text x="479.3" y="409.8" font-size="4.2" fill="#5264ec" font-family="Liberation Sans" text-anchor="start" font-weight="normal" transform="rotate(90 479.3 409.8)">10uF_50V</text>
<text x="486.8" y="421.8" font-size="4.2" fill="#5264ec" font-family="Liberation Sans" text-anchor="start" font-weight="normal" transform="rotate(90 486.8 421.8)">C?</text>
<text x="499.5" y="493" font-size="4.2" fill="#5264ec" font-family="Liberation Sans" text-anchor="start" font-weight="normal" transform="rotate(90 499.5 493)">D?</text>
<text x="486.3" y="497.5" font-size="4.2" fill="#5264ec" font-family="Liberation Sans" text-anchor="start" font-weight="normal" transform="rotate(90 486.3 497.5)">D?</text>
<text x="515.5" y="495" font-size="4" fill="#5264ec" font-family="Liberation Sans" text-anchor="start" font-weight="normal" transform="rotate(90 515.5 495)">RAIL+_5V_OUT</text>
<text x="465" y="487" font-size="4" fill="#5264ec" font-family="Liberation Sans" text-anchor="start" font-weight="normal" transform="rotate(90 465 487)">RAIL-_5V_OUT</text>
<text x="479.5" y="562.5" font-size="4.2" fill="#5264ec" font-family="Liberation Sans" text-anchor="start" font-weight="normal" transform="rotate(90 479.5 562.5)">Header 2</text>
<text x="499.7" y="568" font-size="4.2" fill="#5264ec" font-family="Liberation Sans" text-anchor="start" font-weight="normal" transform="rotate(90 499.7 568)">J?</text>
<text x="496" y="449" font-size="3" fill="#806040" font-family="Liberation Sans" text-anchor="start" font-weight="normal">OUTPUT</text>
<polyline points="114.3,547.6 114.3,590.5 236.2,590.5 236.2,475" stroke="#6e6eba" stroke-width="1.6" fill="none" stroke-linejoin="miter"/>
<polyline points="342.6,475 342.6,547.6 424.6,547.6" stroke="#6e6eba" stroke-width="1.6" fill="none" stroke-linejoin="miter"/>
<polyline points="493,104.7 533.4,104.7 533.4,190" stroke="#6e6eba" stroke-width="1.6" fill="none" stroke-linejoin="miter"/>
<text x="527.1" y="190" font-size="4.2" fill="#5264ec" font-family="Liberation Sans" text-anchor="start" font-weight="normal" transform="rotate(90 527.1 190)">10K</text>
<text x="536" y="190" font-size="4.2" fill="#5264ec" font-family="Liberation Sans" text-anchor="start" font-weight="normal" transform="rotate(90 536 190)">R?</text>
<line x1="533.4" y1="185" x2="533.4" y2="190" stroke="#8c8c8c" stroke-width="1.5"/>
<line x1="533.4" y1="205.5" x2="533.4" y2="210.5" stroke="#8c8c8c" stroke-width="1.5"/>
<polyline points="533.4,190 534.15,190.43 534.7,190.86 534.9,191.29 534.7,191.72 534.15,192.15 533.4,192.58 532.65,193.01 532.1,193.44 531.9,193.88 532.1,194.31 532.65,194.74 533.4,195.17 534.15,195.6 534.7,196.03 534.9,196.46 534.7,196.89 534.15,197.32 533.4,197.75 532.65,198.18 532.1,198.61 531.9,199.04 532.1,199.47 532.65,199.9 533.4,200.33 534.15,200.76 534.7,201.19 534.9,201.62 534.7,202.06 534.15,202.49 533.4,202.92 532.65,203.35 532.1,203.78 531.9,204.21 532.1,204.64 532.65,205.07 533.4,205.5" stroke="#4050f0" stroke-width="1.3" fill="none" stroke-linejoin="miter"/>
<polyline points="533.4,205.5 533.4,340.4 425.1,340.4" stroke="#6e6eba" stroke-width="1.6" fill="none" stroke-linejoin="miter"/>
<polyline points="289.2,369.2 289.2,355.1 493,355.1" stroke="#6e6eba" stroke-width="1.6" fill="none" stroke-linejoin="miter"/>
<text x="427.2" y="342.5" font-size="4.2" fill="#5264ec" font-family="Liberation Sans" text-anchor="start" font-weight="normal" transform="rotate(90 427.2 342.5)">2.2uF_16V</text>
<polyline points="183,360 313.3,360 313.3,369.2" stroke="#6e6eba" stroke-width="1.6" fill="none" stroke-linejoin="miter"/>
<text x="184.6" y="137.7" font-size="8.1" fill="#2a2a90" stroke="#2a2a90" stroke-width="0.25" font-family="Liberation Serif" font-weight="bold" transform="rotate(90 184.6 137.7)">CH2 IN</text>
<text x="494.6" y="134.5" font-size="8.1" fill="#2a2a90" stroke="#2a2a90" stroke-width="0.25" font-family="Liberation Serif" font-weight="bold" transform="rotate(90 494.6 134.5)">CH1 IN</text>
<text x="136" y="547.8" font-size="9.6" fill="#4a4aa8" font-family="Liberation Sans" font-weight="bold" textLength="36.4" lengthAdjust="spacingAndGlyphs" transform="rotate(90 136 547.8)">CH2 OUT</text>
<text x="505.6" y="547.6" font-size="9.6" fill="#4a4aa8" font-family="Liberation Sans" font-weight="bold" textLength="36.4" lengthAdjust="spacingAndGlyphs" transform="rotate(90 505.6 547.6)">CH1 OUT</text>
<rect x="260.3" y="186" width="19.3" height="9.8" fill="#fbf39a" stroke="#c05030" stroke-width="1.1"/>
<text x="263" y="192.3" font-size="2.6" fill="#806040" font-family="Liberation Sans" text-anchor="start" font-weight="normal">1 2 3</text>
<text x="256.3" y="186" font-size="4.2" fill="#5264ec" font-family="Liberation Sans" text-anchor="start" font-weight="normal" transform="rotate(90 256.3 186)">CON3</text>
<text x="281" y="186.5" font-size="4.2" fill="#5264ec" font-family="Liberation Sans" text-anchor="start" font-weight="normal" transform="rotate(90 281 186.5)">J?</text>
<line x1="265.4" y1="196.5" x2="265.4" y2="201" stroke="#8c8c8c" stroke-width="1.6"/>
<line x1="270.3" y1="196.5" x2="270.3" y2="201" stroke="#8c8c8c" stroke-width="1.6"/>
<line x1="274.4" y1="196.5" x2="274.4" y2="201" stroke="#8c8c8c" stroke-width="1.6"/>
<line x1="265.4" y1="201" x2="265.4" y2="331.2" stroke="#6e6eba" stroke-width="1.6"/>
<polyline points="265.4,210.2 323.5,210.2 323.5,316.3 274.5,316.3" stroke="#6e6eba" stroke-width="1.6" fill="none" stroke-linejoin="miter"/>
<line x1="294.2" y1="210.2" x2="294.2" y2="282.5" stroke="#6e6eba" stroke-width="1.6"/>
<polyline points="270.3,201 270.3,220 313.8,220 313.8,345.2 270.2,345.2 270.2,369.2" stroke="#6e6eba" stroke-width="1.6" fill="none" stroke-linejoin="miter"/>
<polyline points="274.4,201 274.4,350.2 294.2,350.2 294.2,369.2" stroke="#6e6eba" stroke-width="1.6" fill="none" stroke-linejoin="miter"/>
<line x1="274.4" y1="244.2" x2="313.8" y2="244.2" stroke="#8c8c8c" stroke-width="1.6"/>
<line x1="281.4" y1="239.7" x2="281.4" y2="248.7" stroke="#4050f0" stroke-width="1.2"/>
<path d="M285.4,239.7 Q283.2,244.2 285.4,248.7" stroke="#4050f0" stroke-width="1.2" fill="none"/>
<line x1="279.2" y1="240.7" x2="280.4" y2="240.7" stroke="#4050f0" stroke-width="0.7"/>
<line x1="279.8" y1="240.1" x2="279.8" y2="241.3" stroke="#4050f0" stroke-width="0.7"/>
<text x="275.4" y="246.2" font-size="4.2" fill="#5264ec" font-family="Liberation Sans" text-anchor="start" font-weight="normal" transform="rotate(90 275.4 246.2)">330uF_16V</text>
<text x="282" y="248.2" font-size="4.2" fill="#5264ec" font-family="Liberation Sans" text-anchor="start" font-weight="normal" transform="rotate(90 282 248.2)">C?</text>
<line x1="300.9" y1="239.7" x2="300.9" y2="248.7" stroke="#4050f0" stroke-width="1.2"/>
<path d="M304.9,239.7 Q302.7,244.2 304.9,248.7" stroke="#4050f0" stroke-width="1.2" fill="none"/>
<line x1="298.7" y1="240.7" x2="299.9" y2="240.7" stroke="#4050f0" stroke-width="0.7"/>
<line x1="299.3" y1="240.1" x2="299.3" y2="241.3" stroke="#4050f0" stroke-width="0.7"/>
<text x="294.9" y="246.2" font-size="4.2" fill="#5264ec" font-family="Liberation Sans" text-anchor="start" font-weight="normal" transform="rotate(90 294.9 246.2)">330uF_16V</text>
<text x="301.5" y="248.2" font-size="4.2" fill="#5264ec" font-family="Liberation Sans" text-anchor="start" font-weight="normal" transform="rotate(90 301.5 248.2)">C?</text>
<line x1="274.4" y1="282.5" x2="313.8" y2="282.5" stroke="#8c8c8c" stroke-width="1.6"/>
<line x1="281.4" y1="278" x2="281.4" y2="287" stroke="#4050f0" stroke-width="1.2"/>
<path d="M285.4,278 Q283.2,282.5 285.4,287" stroke="#4050f0" stroke-width="1.2" fill="none"/>
<line x1="279.2" y1="279" x2="280.4" y2="279" stroke="#4050f0" stroke-width="0.7"/>
<line x1="279.8" y1="278.4" x2="279.8" y2="279.6" stroke="#4050f0" stroke-width="0.7"/>
<text x="275.4" y="284.5" font-size="4.2" fill="#5264ec" font-family="Liberation Sans" text-anchor="start" font-weight="normal" transform="rotate(90 275.4 284.5)">330uF_16V</text>
<text x="282" y="286.5" font-size="4.2" fill="#5264ec" font-family="Liberation Sans" text-anchor="start" font-weight="normal" transform="rotate(90 282 286.5)">C?</text>
<line x1="300.9" y1="278" x2="300.9" y2="287" stroke="#4050f0" stroke-width="1.2"/>
<path d="M304.9,278 Q302.7,282.5 304.9,287" stroke="#4050f0" stroke-width="1.2" fill="none"/>
<line x1="298.7" y1="279" x2="299.9" y2="279" stroke="#4050f0" stroke-width="0.7"/>
<line x1="299.3" y1="278.4" x2="299.3" y2="279.6" stroke="#4050f0" stroke-width="0.7"/>
<text x="294.9" y="284.5" font-size="4.2" fill="#5264ec" font-family="Liberation Sans" text-anchor="start" font-weight="normal" transform="rotate(90 294.9 284.5)">330uF_16V</text>
<text x="301.5" y="286.5" font-size="4.2" fill="#5264ec" font-family="Liberation Sans" text-anchor="start" font-weight="normal" transform="rotate(90 301.5 286.5)">C?</text>
<line x1="268" y1="316.3" x2="274.5" y2="316.3" stroke="#8c8c8c" stroke-width="1.6"/>
<line x1="268" y1="313.3" x2="268" y2="319.3" stroke="#b04848" stroke-width="1.1"/>
<line x1="283" y1="316.3" x2="301" y2="316.3" stroke="#ffffff" stroke-width="2"/>
<text x="290.7" y="318.6" font-size="4.2" fill="#5264ec" font-family="Liberation Sans" text-anchor="start" font-weight="normal" transform="rotate(90 290.7 318.6)">10K</text>
<text x="295.9" y="318.6" font-size="4.2" fill="#5264ec" font-family="Liberation Sans" text-anchor="start" font-weight="normal" transform="rotate(90 295.9 318.6)">R?</text>
<line x1="279" y1="316.3" x2="284" y2="316.3" stroke="#8c8c8c" stroke-width="1.5"/>
<line x1="300" y1="316.3" x2="305" y2="316.3" stroke="#8c8c8c" stroke-width="1.5"/>
<polyline points="284,316.3 284.44,315.55 284.89,315 285.33,314.8 285.78,315 286.22,315.55 286.67,316.3 287.11,317.05 287.56,317.6 288,317.8 288.44,317.6 288.89,317.05 289.33,316.3 289.78,315.55 290.22,315 290.67,314.8 291.11,315 291.56,315.55 292,316.3 292.44,317.05 292.89,317.6 293.33,317.8 293.78,317.6 294.22,317.05 294.67,316.3 295.11,315.55 295.56,315 296,314.8 296.44,315 296.89,315.55 297.33,316.3 297.78,317.05 298.22,317.6 298.67,317.8 299.11,317.6 299.56,317.05 300,316.3" stroke="#4050f0" stroke-width="1.3" fill="none" stroke-linejoin="miter"/>
<line x1="265.4" y1="331.2" x2="320" y2="331.2" stroke="#6e6eba" stroke-width="1.6"/>
<line x1="320" y1="328.2" x2="320" y2="334.2" stroke="#b04848" stroke-width="1.1"/>
<line x1="283" y1="331.2" x2="301" y2="331.2" stroke="#ffffff" stroke-width="2"/>
<text x="290.7" y="333.5" font-size="4.2" fill="#5264ec" font-family="Liberation Sans" text-anchor="start" font-weight="normal" transform="rotate(90 290.7 333.5)">10K</text>
<text x="295.9" y="333.5" font-size="4.2" fill="#5264ec" font-family="Liberation Sans" text-anchor="start" font-weight="normal" transform="rotate(90 295.9 333.5)">R?</text>
<line x1="279" y1="331.2" x2="284" y2="331.2" stroke="#8c8c8c" stroke-width="1.5"/>
<line x1="300" y1="331.2" x2="305" y2="331.2" stroke="#8c8c8c" stroke-width="1.5"/>
<polyline points="284,331.2 284.44,330.45 284.89,329.9 285.33,329.7 285.78,329.9 286.22,330.45 286.67,331.2 287.11,331.95 287.56,332.5 288,332.7 288.44,332.5 288.89,331.95 289.33,331.2 289.78,330.45 290.22,329.9 290.67,329.7 291.11,329.9 291.56,330.45 292,331.2 292.44,331.95 292.89,332.5 293.33,332.7 293.78,332.5 294.22,331.95 294.67,331.2 295.11,330.45 295.56,329.9 296,329.7 296.44,329.9 296.89,330.45 297.33,331.2 297.78,331.95 298.22,332.5 298.67,332.7 299.11,332.5 299.56,331.95 300,331.2" stroke="#4050f0" stroke-width="1.3" fill="none" stroke-linejoin="miter"/>
<line x1="260" y1="331.2" x2="265.4" y2="331.2" stroke="#b04848" stroke-width="1.6"/>
<line x1="260" y1="326.5" x2="260" y2="336" stroke="#b04848" stroke-width="1.2"/>
<line x1="258" y1="328" x2="258" y2="334.5" stroke="#b04848" stroke-width="1.1"/>
<line x1="256" y1="329.5" x2="256" y2="333" stroke="#b04848" stroke-width="1.1"/>
<line x1="255.8" y1="369.2" x2="255.8" y2="383.9" stroke="#606060" stroke-width="1.1"/>
<line x1="260.58" y1="369.2" x2="260.58" y2="383.9" stroke="#606060" stroke-width="1.1"/>
<line x1="265.36" y1="369.2" x2="265.36" y2="383.9" stroke="#606060" stroke-width="1.1"/>
<line x1="270.14" y1="369.2" x2="270.14" y2="383.9" stroke="#606060" stroke-width="1.1"/>
<line x1="274.92" y1="369.2" x2="274.92" y2="383.9" stroke="#606060" stroke-width="1.1"/>
<line x1="279.7" y1="369.2" x2="279.7" y2="383.9" stroke="#606060" stroke-width="1.1"/>
<line x1="284.48" y1="369.2" x2="284.48" y2="383.9" stroke="#606060" stroke-width="1.1"/>
<line x1="289.26" y1="369.2" x2="289.26" y2="383.9" stroke="#606060" stroke-width="1.1"/>
<line x1="294.04" y1="369.2" x2="294.04" y2="383.9" stroke="#606060" stroke-width="1.1"/>
<line x1="298.82" y1="369.2" x2="298.82" y2="383.9" stroke="#606060" stroke-width="1.1"/>
<line x1="303.6" y1="369.2" x2="303.6" y2="383.9" stroke="#606060" stroke-width="1.1"/>
<line x1="308.38" y1="369.2" x2="308.38" y2="383.9" stroke="#606060" stroke-width="1.1"/>
<line x1="313.16" y1="369.2" x2="313.16" y2="383.9" stroke="#606060" stroke-width="1.1"/>
<line x1="317.94" y1="369.2" x2="317.94" y2="383.9" stroke="#606060" stroke-width="1.1"/>
<line x1="322.72" y1="369.2" x2="322.72" y2="383.9" stroke="#606060" stroke-width="1.1"/>
<line x1="327.5" y1="369.2" x2="327.5" y2="383.9" stroke="#606060" stroke-width="1.1"/>
<line x1="255.8" y1="369.2" x2="270.14" y2="369.2" stroke="#6e6eba" stroke-width="1.6"/>
<line x1="274.92" y1="369.2" x2="289.26" y2="369.2" stroke="#6e6eba" stroke-width="1.6"/>
<line x1="294.04" y1="369.2" x2="308.38" y2="369.2" stroke="#6e6eba" stroke-width="1.6"/>
<line x1="313.16" y1="369.2" x2="327.5" y2="369.2" stroke="#6e6eba" stroke-width="1.6"/>
<text x="274" y="367.2" font-size="3.6" fill="#b04848" font-family="Liberation Sans" text-anchor="start" font-weight="normal">VCC1_2</text>
<text x="316" y="367.2" font-size="3.6" fill="#b04848" font-family="Liberation Sans" text-anchor="start" font-weight="normal">VCC1_2</text>
<text x="256.8" y="378.5" font-size="2.4" fill="#707070" font-family="Liberation Sans" text-anchor="start" font-weight="normal">1</text>
<text x="261.58" y="378.5" font-size="2.4" fill="#707070" font-family="Liberation Sans" text-anchor="start" font-weight="normal">2</text>
<text x="266.36" y="378.5" font-size="2.4" fill="#707070" font-family="Liberation Sans" text-anchor="start" font-weight="normal">3</text>
<text x="271.14" y="378.5" font-size="2.4" fill="#707070" font-family="Liberation Sans" text-anchor="start" font-weight="normal">4</text>
<text x="275.92" y="378.5" font-size="2.4" fill="#707070" font-family="Liberation Sans" text-anchor="start" font-weight="normal">5</text>
<text x="280.7" y="378.5" font-size="2.4" fill="#707070" font-family="Liberation Sans" text-anchor="start" font-weight="normal">6</text>
<text x="285.48" y="378.5" font-size="2.4" fill="#707070" font-family="Liberation Sans" text-anchor="start" font-weight="normal">7</text>
<text x="290.26" y="378.5" font-size="2.4" fill="#707070" font-family="Liberation Sans" text-anchor="start" font-weight="normal">8</text>
<text x="295.04" y="378.5" font-size="2.4" fill="#707070" font-family="Liberation Sans" text-anchor="start" font-weight="normal">9</text>
<text x="299.82" y="378.5" font-size="2.4" fill="#707070" font-family="Liberation Sans" text-anchor="start" font-weight="normal">10</text>
<text x="304.6" y="378.5" font-size="2.4" fill="#707070" font-family="Liberation Sans" text-anchor="start" font-weight="normal">11</text>
<text x="309.38" y="378.5" font-size="2.4" fill="#707070" font-family="Liberation Sans" text-anchor="start" font-weight="normal">12</text>
<text x="314.16" y="378.5" font-size="2.4" fill="#707070" font-family="Liberation Sans" text-anchor="start" font-weight="normal">13</text>
<text x="318.94" y="378.5" font-size="2.4" fill="#707070" font-family="Liberation Sans" text-anchor="start" font-weight="normal">14</text>
<text x="323.72" y="378.5" font-size="2.4" fill="#707070" font-family="Liberation Sans" text-anchor="start" font-weight="normal">15</text>
<text x="328.5" y="378.5" font-size="2.4" fill="#707070" font-family="Liberation Sans" text-anchor="start" font-weight="normal">16</text>
<text x="248.5" y="384" font-size="4" fill="#5264ec" font-family="Liberation Sans" text-anchor="start" font-weight="normal" transform="rotate(90 248.5 384)">U?</text>
<text x="224.2" y="423" font-size="4" fill="#5264ec" font-family="Liberation Sans" text-anchor="start" font-weight="normal" transform="rotate(90 224.2 423)">U?</text>
<text x="354" y="423" font-size="4" fill="#5264ec" font-family="Liberation Sans" text-anchor="start" font-weight="normal" transform="rotate(90 354 423)">U?</text>
<text x="258" y="367" font-size="3" fill="#5a6ae8" font-family="Liberation Sans" text-anchor="start" font-weight="normal"></text>
<rect x="250.8" y="383.9" width="82.3" height="38.4" fill="#ffffb4" stroke="#b0402a" stroke-width="1.2"/>
<rect x="226.3" y="422.3" width="126.1" height="38.5" fill="#ffffb4" stroke="#b0402a" stroke-width="1.2"/>
<line x1="289.3" y1="422.3" x2="289.3" y2="460.8" stroke="#8a1a10" stroke-width="1.8"/>
<line x1="236.2" y1="460.8" x2="236.2" y2="475" stroke="#606060" stroke-width="1.1"/>
<line x1="245.3" y1="460.8" x2="245.3" y2="475" stroke="#606060" stroke-width="1.1"/>
<line x1="255.5" y1="460.8" x2="255.5" y2="475" stroke="#606060" stroke-width="1.1"/>
<line x1="265.5" y1="460.8" x2="265.5" y2="475" stroke="#606060" stroke-width="1.1"/>
<line x1="274.6" y1="460.8" x2="274.6" y2="475" stroke="#606060" stroke-width="1.1"/>
<line x1="284.3" y1="460.8" x2="284.3" y2="475" stroke="#606060" stroke-width="1.1"/>
<line x1="294.1" y1="460.8" x2="294.1" y2="475" stroke="#606060" stroke-width="1.1"/>
<line x1="303.8" y1="460.8" x2="303.8" y2="475" stroke="#606060" stroke-width="1.1"/>
<line x1="313.6" y1="460.8" x2="313.6" y2="475" stroke="#606060" stroke-width="1.1"/>
<line x1="323" y1="460.8" x2="323" y2="475" stroke="#606060" stroke-width="1.1"/>
<line x1="333" y1="460.8" x2="333" y2="475" stroke="#606060" stroke-width="1.1"/>
<line x1="342.6" y1="460.8" x2="342.6" y2="475" stroke="#606060" stroke-width="1.1"/>
<text x="234.6" y="457.8" font-size="4.4" fill="#505050" font-family="Liberation Sans" text-anchor="end" font-weight="normal" transform="rotate(90 234.6 457.8)">PWM2</text>
<text x="243.7" y="457.8" font-size="4.4" fill="#505050" font-family="Liberation Sans" text-anchor="end" font-weight="normal" transform="rotate(90 243.7 457.8)">SD</text>
<text x="253.9" y="457.8" font-size="4.4" fill="#505050" font-family="Liberation Sans" text-anchor="end" font-weight="normal" transform="rotate(90 253.9 457.8)">AVA</text>
<text x="263.9" y="457.8" font-size="4.4" fill="#505050" font-family="Liberation Sans" text-anchor="end" font-weight="normal" transform="rotate(90 263.9 457.8)">GND_SOURCE</text>
<text x="273" y="457.8" font-size="4.4" fill="#505050" font-family="Liberation Sans" text-anchor="end" font-weight="normal" transform="rotate(90 273 457.8)">GND_SOURCE</text>
<text x="282.7" y="457.8" font-size="4.4" fill="#505050" font-family="Liberation Sans" text-anchor="end" font-weight="normal" transform="rotate(90 282.7 457.8)">VCC</text>
<text x="292.5" y="457.8" font-size="4.4" fill="#505050" font-family="Liberation Sans" text-anchor="end" font-weight="normal" transform="rotate(90 292.5 457.8)">NC</text>
<text x="302.2" y="457.8" font-size="4.4" fill="#505050" font-family="Liberation Sans" text-anchor="end" font-weight="normal" transform="rotate(90 302.2 457.8)">GND_SOURCE</text>
<text x="312" y="457.8" font-size="4.4" fill="#505050" font-family="Liberation Sans" text-anchor="end" font-weight="normal" transform="rotate(90 312 457.8)">GND_SOURCE</text>
<text x="321.4" y="457.8" font-size="4.4" fill="#505050" font-family="Liberation Sans" text-anchor="end" font-weight="normal" transform="rotate(90 321.4 457.8)">GND_SOURCE</text>
<text x="331.4" y="457.8" font-size="4.4" fill="#505050" font-family="Liberation Sans" text-anchor="end" font-weight="normal" transform="rotate(90 331.4 457.8)">VSS</text>
<text x="341" y="457.8" font-size="4.4" fill="#505050" font-family="Liberation Sans" text-anchor="end" font-weight="normal" transform="rotate(90 341 457.8)">PWM1</text>
<ellipse cx="255.8" cy="390.6" rx="1.4" ry="1.2" fill="#505050"/>
<line x1="255.8" y1="387.5" x2="255.8" y2="388.8" stroke="#a0a0a0" stroke-width="0.6"/>
<ellipse cx="260.58" cy="390.6" rx="1.4" ry="1.2" fill="#505050"/>
<line x1="260.58" y1="387.5" x2="260.58" y2="388.8" stroke="#a0a0a0" stroke-width="0.6"/>
<ellipse cx="265.36" cy="390.6" rx="1.4" ry="1.2" fill="#505050"/>
<line x1="265.36" y1="387.5" x2="265.36" y2="388.8" stroke="#a0a0a0" stroke-width="0.6"/>
<ellipse cx="270.14" cy="390.6" rx="1.4" ry="1.2" fill="#505050"/>
<line x1="270.14" y1="387.5" x2="270.14" y2="388.8" stroke="#a0a0a0" stroke-width="0.6"/>
<rect x="273.72" y="386.8" width="2.4" height="3.4" rx="1" fill="none" stroke="#909090" stroke-width="0.6"/>
<rect x="273.72" y="391" width="2.4" height="3.4" rx="1" fill="none" stroke="#909090" stroke-width="0.6"/>
<circle cx="274.92" cy="397.8" r="1.3" fill="#d0d0a0" stroke="#606060" stroke-width="0.7"/>
<line x1="274.92" y1="395" x2="274.92" y2="396.5" stroke="#808080" stroke-width="0.6"/>
<rect x="278.5" y="386.8" width="2.4" height="3.4" rx="1" fill="none" stroke="#909090" stroke-width="0.6"/>
<rect x="278.5" y="391" width="2.4" height="3.4" rx="1" fill="none" stroke="#909090" stroke-width="0.6"/>
<circle cx="279.7" cy="397.8" r="1.3" fill="#d0d0a0" stroke="#606060" stroke-width="0.7"/>
<line x1="279.7" y1="395" x2="279.7" y2="396.5" stroke="#808080" stroke-width="0.6"/>
<rect x="283.28" y="386.8" width="2.4" height="3.4" rx="1" fill="none" stroke="#909090" stroke-width="0.6"/>
<rect x="283.28" y="391" width="2.4" height="3.4" rx="1" fill="none" stroke="#909090" stroke-width="0.6"/>
<circle cx="284.48" cy="397.8" r="1.3" fill="#d0d0a0" stroke="#606060" stroke-width="0.7"/>
<line x1="284.48" y1="395" x2="284.48" y2="396.5" stroke="#808080" stroke-width="0.6"/>
<rect x="288.06" y="386.8" width="2.4" height="3.4" rx="1" fill="none" stroke="#909090" stroke-width="0.6"/>
<rect x="288.06" y="391" width="2.4" height="3.4" rx="1" fill="none" stroke="#909090" stroke-width="0.6"/>
<circle cx="289.26" cy="397.8" r="1.3" fill="#d0d0a0" stroke="#606060" stroke-width="0.7"/>
<line x1="289.26" y1="395" x2="289.26" y2="396.5" stroke="#808080" stroke-width="0.6"/>
<polygon points="292.74,388.8 292.74,392.2 295.64,390.5" stroke="#505050" stroke-width="0.5" fill="#505050"/>
<line x1="291.84" y1="390.5" x2="292.74" y2="390.5" stroke="#606060" stroke-width="0.8"/>
<polygon points="297.52,388.8 297.52,392.2 300.42,390.5" stroke="#505050" stroke-width="0.5" fill="#505050"/>
<line x1="296.62" y1="390.5" x2="297.52" y2="390.5" stroke="#606060" stroke-width="0.8"/>
<polygon points="302.3,388.8 302.3,392.2 305.2,390.5" stroke="#505050" stroke-width="0.5" fill="#505050"/>
<line x1="301.4" y1="390.5" x2="302.3" y2="390.5" stroke="#606060" stroke-width="0.8"/>
<polygon points="307.08,388.8 307.08,392.2 309.98,390.5" stroke="#505050" stroke-width="0.5" fill="#505050"/>
<line x1="306.18" y1="390.5" x2="307.08" y2="390.5" stroke="#606060" stroke-width="0.8"/>
<rect x="311.96" y="386.8" width="2.4" height="3.4" rx="1" fill="none" stroke="#909090" stroke-width="0.6"/>
<rect x="311.96" y="391" width="2.4" height="3.4" rx="1" fill="none" stroke="#909090" stroke-width="0.6"/>
<circle cx="313.16" cy="397.8" r="1.3" fill="#d0d0a0" stroke="#606060" stroke-width="0.7"/>
<line x1="313.16" y1="395" x2="313.16" y2="396.5" stroke="#808080" stroke-width="0.6"/>
<rect x="316.74" y="386.8" width="2.4" height="3.4" rx="1" fill="none" stroke="#909090" stroke-width="0.6"/>
<rect x="316.74" y="391" width="2.4" height="3.4" rx="1" fill="none" stroke="#909090" stroke-width="0.6"/>
<circle cx="317.94" cy="397.8" r="1.3" fill="#d0d0a0" stroke="#606060" stroke-width="0.7"/>
<line x1="317.94" y1="395" x2="317.94" y2="396.5" stroke="#808080" stroke-width="0.6"/>
<rect x="321.52" y="386.8" width="2.4" height="3.4" rx="1" fill="none" stroke="#909090" stroke-width="0.6"/>
<rect x="321.52" y="391" width="2.4" height="3.4" rx="1" fill="none" stroke="#909090" stroke-width="0.6"/>
<circle cx="322.72" cy="397.8" r="1.3" fill="#d0d0a0" stroke="#606060" stroke-width="0.7"/>
<line x1="322.72" y1="395" x2="322.72" y2="396.5" stroke="#808080" stroke-width="0.6"/>
<rect x="326.3" y="386.8" width="2.4" height="3.4" rx="1" fill="none" stroke="#909090" stroke-width="0.6"/>
<rect x="326.3" y="391" width="2.4" height="3.4" rx="1" fill="none" stroke="#909090" stroke-width="0.6"/>
<circle cx="327.5" cy="397.8" r="1.3" fill="#d0d0a0" stroke="#606060" stroke-width="0.7"/>
<line x1="327.5" y1="395" x2="327.5" y2="396.5" stroke="#808080" stroke-width="0.6"/>
<polygon points="242.2,478.5 245.3,476 248.4,478.5 248.4,489.5 245.3,492 242.2,489.5" stroke="#c06030" stroke-width="1.0" fill="#f0dc62"/>
<text x="244.2" y="478.5" font-size="2.8" fill="#b89850" font-family="Liberation Sans" transform="rotate(90 244.2 478.5)" textLength="11" lengthAdjust="spacingAndGlyphs">SD</text>
<line x1="255.5" y1="475" x2="255.5" y2="478.6" stroke="#8c8c8c" stroke-width="1"/>
<line x1="252.5" y1="478.6" x2="258.5" y2="478.6" stroke="#b04848" stroke-width="1.1"/>
<text x="253.9" y="481.5" font-size="4" fill="#b04848" font-family="Liberation Sans" text-anchor="start" font-weight="normal" transform="rotate(90 253.9 481.5)">-5V</text>
<line x1="284.3" y1="475" x2="284.3" y2="478.6" stroke="#8c8c8c" stroke-width="1"/>
<line x1="281.3" y1="478.6" x2="287.3" y2="478.6" stroke="#b04848" stroke-width="1.1"/>
<text x="282.7" y="481.5" font-size="4" fill="#b04848" font-family="Liberation Sans" text-anchor="start" font-weight="normal" transform="rotate(90 282.7 481.5)">3.3V</text>
<line x1="294.1" y1="475" x2="294.1" y2="478.6" stroke="#8c8c8c" stroke-width="1"/>
<line x1="291.1" y1="478.6" x2="297.1" y2="478.6" stroke="#b04848" stroke-width="1.1"/>
<text x="292.5" y="481.5" font-size="4" fill="#b04848" font-family="Liberation Sans" text-anchor="start" font-weight="normal" transform="rotate(90 292.5 481.5)">-5V</text>
<line x1="333" y1="475" x2="333" y2="478.6" stroke="#8c8c8c" stroke-width="1"/>
<line x1="330" y1="478.6" x2="336" y2="478.6" stroke="#b04848" stroke-width="1.1"/>
<text x="331.4" y="481.5" font-size="4" fill="#b04848" font-family="Liberation Sans" text-anchor="start" font-weight="normal" transform="rotate(90 331.4 481.5)">-5V</text>
<text x="237.4" y="467" font-size="2.6" fill="#707070" font-family="Liberation Sans" text-anchor="start" font-weight="normal">13</text>
<text x="246.5" y="467" font-size="2.6" fill="#707070" font-family="Liberation Sans" text-anchor="start" font-weight="normal">11</text>
<text x="256.7" y="467" font-size="2.6" fill="#707070" font-family="Liberation Sans" text-anchor="start" font-weight="normal">12</text>
<text x="266.7" y="467" font-size="2.6" fill="#707070" font-family="Liberation Sans" text-anchor="start" font-weight="normal">6</text>
<text x="275.8" y="467" font-size="2.6" fill="#707070" font-family="Liberation Sans" text-anchor="start" font-weight="normal">5</text>
<text x="285.5" y="467" font-size="2.6" fill="#707070" font-family="Liberation Sans" text-anchor="start" font-weight="normal">7</text>
<text x="295.3" y="467" font-size="2.6" fill="#707070" font-family="Liberation Sans" text-anchor="start" font-weight="normal">8</text>
<text x="305" y="467" font-size="2.6" fill="#707070" font-family="Liberation Sans" text-anchor="start" font-weight="normal">4</text>
<text x="314.8" y="467" font-size="2.6" fill="#707070" font-family="Liberation Sans" text-anchor="start" font-weight="normal">3</text>
<text x="324.2" y="467" font-size="2.6" fill="#707070" font-family="Liberation Sans" text-anchor="start" font-weight="normal">2</text>
<text x="334.2" y="467" font-size="2.6" fill="#707070" font-family="Liberation Sans" text-anchor="start" font-weight="normal">1</text>
<text x="343.8" y="467" font-size="2.6" fill="#707070" font-family="Liberation Sans" text-anchor="start" font-weight="normal">1</text>
<polyline points="265.5,475 274.6,475" stroke="#6e6eba" stroke-width="1.6" fill="none" stroke-linejoin="miter"/>
<polyline points="274.6,475 274.6,485.5 271,485.5" stroke="#6e6eba" stroke-width="1.6" fill="none" stroke-linejoin="miter"/>
<polygon points="271,480.7 271,490.3 265.5,485.5" stroke="#b04848" stroke-width="1.1" fill="none"/>
<polyline points="303.8,475 322.7,475" stroke="#6e6eba" stroke-width="1.6" fill="none" stroke-linejoin="miter"/>
<polyline points="313.6,475 313.6,485.5 310,485.5" stroke="#6e6eba" stroke-width="1.6" fill="none" stroke-linejoin="miter"/>
<polygon points="310,480.7 310,490.3 304.5,485.5" stroke="#b04848" stroke-width="1.1" fill="none"/>
<line x1="271" y1="533.2" x2="302" y2="533.2" stroke="#6e6eba" stroke-width="1.6"/>
<polygon points="271,528.4 271,538 265.5,533.2" stroke="#b04848" stroke-width="1.1" fill="none"/>
<polygon points="289.7,530.8 289.7,535.6 284.9,533.2" stroke="#4050f0" stroke-width="0.8" fill="#4050f0"/>
<line x1="284.9" y1="530.8" x2="284.9" y2="535.6" stroke="#4050f0" stroke-width="1.1"/>
<line x1="302" y1="528.7" x2="302" y2="537.7" stroke="#b04848" stroke-width="1.1"/>
<text x="281.5" y="536" font-size="4.2" fill="#5264ec" font-family="Liberation Sans" text-anchor="start" font-weight="normal" transform="rotate(90 281.5 536)">1N4148</text>
<text x="287" y="536.5" font-size="4.2" fill="#5264ec" font-family="Liberation Sans" text-anchor="start" font-weight="normal" transform="rotate(90 287 536.5)">D?</text>
<text x="303.5" y="531" font-size="3.6" fill="#d09090" font-family="Liberation Sans" text-anchor="start" font-weight="normal" transform="rotate(90 303.5 531)">5V</text>
<text x="282" y="545" font-size="3" fill="#5a6ae8" font-family="Liberation Sans" text-anchor="start" font-weight="normal"></text>
<line x1="298" y1="41.2" x2="303.4" y2="41.2" stroke="#b04848" stroke-width="1.3"/>
<line x1="303.4" y1="38.5" x2="303.4" y2="43.9" stroke="#b04848" stroke-width="1.3"/>
<text x="304.8" y="36.7" font-size="3.6" fill="#d09090" font-family="Liberation Sans" text-anchor="start" font-weight="normal" transform="rotate(90 304.8 36.7)">+5V</text>
<line x1="298" y1="56.2" x2="303.4" y2="56.2" stroke="#b04848" stroke-width="1.3"/>
<line x1="303.4" y1="53.5" x2="303.4" y2="58.9" stroke="#b04848" stroke-width="1.3"/>
<text x="304.8" y="51.7" font-size="3.6" fill="#d09090" font-family="Liberation Sans" text-anchor="start" font-weight="normal" transform="rotate(90 304.8 51.7)">-5V</text>
<line x1="298" y1="70.6" x2="303.4" y2="70.6" stroke="#b04848" stroke-width="1.3"/>
<line x1="303.4" y1="67.9" x2="303.4" y2="73.3" stroke="#b04848" stroke-width="1.3"/>
<text x="304.8" y="66.1" font-size="3.6" fill="#d09090" font-family="Liberation Sans" text-anchor="start" font-weight="normal" transform="rotate(90 304.8 66.1)">3.3V</text>
<line x1="298" y1="85.3" x2="303.4" y2="85.3" stroke="#b04848" stroke-width="1.3"/>
<line x1="303.4" y1="82.6" x2="303.4" y2="88" stroke="#b04848" stroke-width="1.3"/>
<text x="304.8" y="80.8" font-size="3.6" fill="#d09090" font-family="Liberation Sans" text-anchor="start" font-weight="normal" transform="rotate(90 304.8 80.8)">5V</text>
<line x1="148.4" y1="615.2" x2="226.6" y2="615.2" stroke="#6e6eba" stroke-width="1.6"/>
<text x="142.1" y="620" font-size="4.2" fill="#5264ec" font-family="Liberation Sans" text-anchor="start" font-weight="normal" transform="rotate(90 142.1 620)">22K</text>
<text x="151" y="620" font-size="4.2" fill="#5264ec" font-family="Liberation Sans" text-anchor="start" font-weight="normal" transform="rotate(90 151 620)">R?</text>
<line x1="148.4" y1="615" x2="148.4" y2="620" stroke="#8c8c8c" stroke-width="1.5"/>
<line x1="148.4" y1="635" x2="148.4" y2="640" stroke="#8c8c8c" stroke-width="1.5"/>
<polyline points="148.4,620 149.15,620.42 149.7,620.83 149.9,621.25 149.7,621.67 149.15,622.08 148.4,622.5 147.65,622.92 147.1,623.33 146.9,623.75 147.1,624.17 147.65,624.58 148.4,625 149.15,625.42 149.7,625.83 149.9,626.25 149.7,626.67 149.15,627.08 148.4,627.5 147.65,627.92 147.1,628.33 146.9,628.75 147.1,629.17 147.65,629.58 148.4,630 149.15,630.42 149.7,630.83 149.9,631.25 149.7,631.67 149.15,632.08 148.4,632.5 147.65,632.92 147.1,633.33 146.9,633.75 147.1,634.17 147.65,634.58 148.4,635" stroke="#4050f0" stroke-width="1.3" fill="none" stroke-linejoin="miter"/>
<line x1="148.4" y1="640" x2="148.4" y2="653.7" stroke="#8c8c8c" stroke-width="1.5"/>
<line x1="168.3" y1="625" x2="202.2" y2="625" stroke="#6e6eba" stroke-width="1.6"/>
<line x1="221.5" y1="625" x2="226.6" y2="625" stroke="#6e6eba" stroke-width="1.6"/>
<line x1="226.6" y1="615.2" x2="226.6" y2="625" stroke="#6e6eba" stroke-width="1.6"/>
<line x1="212" y1="625" x2="221.5" y2="625" stroke="#b04848" stroke-width="1.2"/>
<line x1="214" y1="620.5" x2="214" y2="629.5" stroke="#b04848" stroke-width="1.3"/>
<line x1="212.2" y1="622" x2="212.2" y2="628" stroke="#b04848" stroke-width="1.2"/>
<line x1="210.6" y1="623.4" x2="210.6" y2="626.6" stroke="#b04848" stroke-width="1.2"/>
<text x="162" y="630" font-size="4.2" fill="#5264ec" font-family="Liberation Sans" text-anchor="start" font-weight="normal" transform="rotate(90 162 630)">22K</text>
<text x="170.9" y="630" font-size="4.2" fill="#5264ec" font-family="Liberation Sans" text-anchor="start" font-weight="normal" transform="rotate(90 170.9 630)">R?</text>
<line x1="168.3" y1="625" x2="168.3" y2="630" stroke="#8c8c8c" stroke-width="1.5"/>
<line x1="168.3" y1="645" x2="168.3" y2="650" stroke="#8c8c8c" stroke-width="1.5"/>
<polyline points="168.3,630 169.05,630.42 169.6,630.83 169.8,631.25 169.6,631.67 169.05,632.08 168.3,632.5 167.55,632.92 167,633.33 166.8,633.75 167,634.17 167.55,634.58 168.3,635 169.05,635.42 169.6,635.83 169.8,636.25 169.6,636.67 169.05,637.08 168.3,637.5 167.55,637.92 167,638.33 166.8,638.75 167,639.17 167.55,639.58 168.3,640 169.05,640.42 169.6,640.83 169.8,641.25 169.6,641.67 169.05,642.08 168.3,642.5 167.55,642.92 167,643.33 166.8,643.75 167,644.17 167.55,644.58 168.3,645" stroke="#4050f0" stroke-width="1.3" fill="none" stroke-linejoin="miter"/>
<line x1="168.3" y1="650" x2="168.3" y2="653.7" stroke="#8c8c8c" stroke-width="1.5"/>
<line x1="197.2" y1="625" x2="197.2" y2="639.2" stroke="#8c8c8c" stroke-width="1.4"/>
<line x1="197.2" y1="639.2" x2="197.2" y2="649.5" stroke="#6e6eba" stroke-width="1.6"/>
<line x1="221.5" y1="625" x2="221.5" y2="639.2" stroke="#8c8c8c" stroke-width="1.4"/>
<line x1="221.5" y1="639.2" x2="221.5" y2="649.5" stroke="#6e6eba" stroke-width="1.6"/>
<line x1="202.2" y1="625" x2="202.2" y2="639.2" stroke="#8c8c8c" stroke-width="1.4"/>
<line x1="226.6" y1="625" x2="226.6" y2="639.2" stroke="#8c8c8c" stroke-width="1.4"/>
<rect x="139" y="653.5" width="39" height="15" fill="#fbfbe0" stroke="#c07060" stroke-width="1.2"/>
<line x1="142.5" y1="660.5" x2="155" y2="660.5" stroke="#4050f0" stroke-width="1.6"/>
<line x1="162" y1="660.5" x2="174.5" y2="660.5" stroke="#4050f0" stroke-width="1.6"/>
<line x1="146.5" y1="660.5" x2="142" y2="668.5" stroke="#4050f0" stroke-width="1.1"/>
<line x1="150.5" y1="660.5" x2="157" y2="668" stroke="#4050f0" stroke-width="1.1"/>
<line x1="166" y1="660.5" x2="160" y2="668" stroke="#4050f0" stroke-width="1.1"/>
<line x1="170.5" y1="660.5" x2="176" y2="668.5" stroke="#4050f0" stroke-width="1.1"/>
<circle cx="156" cy="666.5" r="1.3" fill="#4050f0"/>
<circle cx="161" cy="666.5" r="1.3" fill="#4050f0"/>
<line x1="158.5" y1="653.5" x2="158.5" y2="667" stroke="#8c8c8c" stroke-width="1.2"/>
<text x="134.5" y="654" font-size="4.2" fill="#5264ec" font-family="Liberation Sans" text-anchor="start" font-weight="normal" transform="rotate(90 134.5 654)">UMX1N</text>
<text x="180" y="654.5" font-size="4.2" fill="#5264ec" font-family="Liberation Sans" text-anchor="start" font-weight="normal" transform="rotate(90 180 654.5)">Q?</text>
<polyline points="158.5,653.5 158.5,644.4 129.2,644.4 129.2,683" stroke="#6e6eba" stroke-width="1.6" fill="none" stroke-linejoin="miter"/>
<line x1="142" y1="668.5" x2="142" y2="711.8" stroke="#6e6eba" stroke-width="1.6"/>
<polyline points="142,678 176,678 176,668.5" stroke="#6e6eba" stroke-width="1.6" fill="none" stroke-linejoin="miter"/>
<line x1="129.2" y1="683" x2="232" y2="683" stroke="#6e6eba" stroke-width="1.6"/>
<rect x="192.2" y="639.2" width="49.3" height="34" fill="#fff8a0" stroke="#c06040" stroke-width="1.2"/>
<text x="187.5" y="640" font-size="4.2" fill="#5264ec" font-family="Liberation Sans" text-anchor="start" font-weight="normal" transform="rotate(90 187.5 640)">IRF7303</text>
<text x="243" y="641" font-size="4.2" fill="#5264ec" font-family="Liberation Sans" text-anchor="start" font-weight="normal" transform="rotate(90 243 641)">U?</text>
<polyline points="202.2,639.2 202.2,644 217,644 217,649" stroke="#4050f0" stroke-width="1.1" fill="none" stroke-linejoin="miter"/>
<polyline points="197.2,649.5 203.5,649.5" stroke="#4050f0" stroke-width="1.1" fill="none" stroke-linejoin="miter"/>
<circle cx="207.5" cy="654.5" r="8.6" fill="none" stroke="#4050f0" stroke-width="1"/>
<line x1="213" y1="648.5" x2="213" y2="659.5" stroke="#4050f0" stroke-width="1.4"/>
<line x1="204" y1="649" x2="204" y2="651.5" stroke="#4050f0" stroke-width="1.3"/>
<line x1="204" y1="653" x2="204" y2="656" stroke="#4050f0" stroke-width="1.3"/>
<line x1="204" y1="657.5" x2="204" y2="660" stroke="#4050f0" stroke-width="1.3"/>
<line x1="204" y1="650.3" x2="211.3" y2="650.3" stroke="#4050f0" stroke-width="1.1"/>
<line x1="204" y1="658.7" x2="211.3" y2="658.7" stroke="#4050f0" stroke-width="1.1"/>
<line x1="211.3" y1="650.3" x2="211.3" y2="658.7" stroke="#4050f0" stroke-width="1.1"/>
<polygon points="206.5,648.7 206.5,651.9 209.5,650.3" stroke="#4050f0" stroke-width="0.6" fill="#4050f0"/>
<polygon points="206.7,655.1 209.3,655.1 208,657.5" stroke="#4050f0" stroke-width="0.6" fill="#4050f0"/>
<line x1="204" y1="654.5" x2="208" y2="654.5" stroke="#4050f0" stroke-width="1.1"/>
<polyline points="203.5,659.5 197.2,659.5 197.2,668 202.2,668 202.2,673.2" stroke="#4050f0" stroke-width="1.1" fill="none" stroke-linejoin="miter"/>
<polyline points="226.6,639.2 226.6,644 241,644 241,649" stroke="#4050f0" stroke-width="1.1" fill="none" stroke-linejoin="miter"/>
<polyline points="221.5,649.5 227.5,649.5" stroke="#4050f0" stroke-width="1.1" fill="none" stroke-linejoin="miter"/>
<circle cx="231.5" cy="654.5" r="8.6" fill="none" stroke="#4050f0" stroke-width="1"/>
<line x1="237" y1="648.5" x2="237" y2="659.5" stroke="#4050f0" stroke-width="1.4"/>
<line x1="228" y1="649" x2="228" y2="651.5" stroke="#4050f0" stroke-width="1.3"/>
<line x1="228" y1="653" x2="228" y2="656" stroke="#4050f0" stroke-width="1.3"/>
<line x1="228" y1="657.5" x2="228" y2="660" stroke="#4050f0" stroke-width="1.3"/>
<line x1="228" y1="650.3" x2="235.3" y2="650.3" stroke="#4050f0" stroke-width="1.1"/>
<line x1="228" y1="658.7" x2="235.3" y2="658.7" stroke="#4050f0" stroke-width="1.1"/>
<line x1="235.3" y1="650.3" x2="235.3" y2="658.7" stroke="#4050f0" stroke-width="1.1"/>
<polygon points="230.5,648.7 230.5,651.9 233.5,650.3" stroke="#4050f0" stroke-width="0.6" fill="#4050f0"/>
<polygon points="230.7,655.1 233.3,655.1 232,657.5" stroke="#4050f0" stroke-width="0.6" fill="#4050f0"/>
<line x1="228" y1="654.5" x2="232" y2="654.5" stroke="#4050f0" stroke-width="1.1"/>
<polyline points="227.5,659.5 221.5,659.5 221.5,668 226.5,668 226.5,673.2" stroke="#4050f0" stroke-width="1.1" fill="none" stroke-linejoin="miter"/>
<line x1="202" y1="673.2" x2="202" y2="711.8" stroke="#6e6eba" stroke-width="1.6"/>
<line x1="226.7" y1="673.2" x2="226.7" y2="711.8" stroke="#6e6eba" stroke-width="1.6"/>
<line x1="207" y1="673.2" x2="207" y2="683" stroke="#8c8c8c" stroke-width="1.4"/>
<line x1="231.7" y1="673.2" x2="231.7" y2="683" stroke="#8c8c8c" stroke-width="1.4"/>
<line x1="183" y1="683" x2="183" y2="711.8" stroke="#6e6eba" stroke-width="1.6"/>
<text x="175" y="681.9" font-size="4.2" fill="#5264ec" font-family="Liberation Sans" text-anchor="start" font-weight="normal" transform="rotate(90 175 681.9)">10uF</text>
<text x="187.5" y="689.3" font-size="4.2" fill="#5264ec" font-family="Liberation Sans" text-anchor="start" font-weight="normal" transform="rotate(90 187.5 689.3)">C?</text>
<line x1="178" y1="690.1" x2="188" y2="690.1" stroke="#4050f0" stroke-width="1.4"/>
<line x1="178" y1="692.5" x2="188" y2="692.5" stroke="#4050f0" stroke-width="1.4"/>
<text x="186.4" y="693" font-size="4.2" fill="#5264ec" font-family="Liberation Sans" text-anchor="start" font-weight="normal" transform="rotate(90 186.4 693)">100K</text>
<text x="195.3" y="693" font-size="4.2" fill="#5264ec" font-family="Liberation Sans" text-anchor="start" font-weight="normal" transform="rotate(90 195.3 693)">R?</text>
<polyline points="192.7,693 193.45,693.42 194,693.83 194.2,694.25 194,694.67 193.45,695.08 192.7,695.5 191.95,695.92 191.4,696.33 191.2,696.75 191.4,697.17 191.95,697.58 192.7,698 193.45,698.42 194,698.83 194.2,699.25 194,699.67 193.45,700.08 192.7,700.5 191.95,700.92 191.4,701.33 191.2,701.75 191.4,702.17 191.95,702.58 192.7,703 193.45,703.42 194,703.83 194.2,704.25 194,704.67 193.45,705.08 192.7,705.5 191.95,705.92 191.4,706.33 191.2,706.75 191.4,707.17 191.95,707.58 192.7,708" stroke="#4050f0" stroke-width="1.3" fill="none" stroke-linejoin="miter"/>
<line x1="192.7" y1="683" x2="192.7" y2="693" stroke="#6e6eba" stroke-width="1.6"/>
<line x1="192.7" y1="708" x2="192.7" y2="711.8" stroke="#6e6eba" stroke-width="1.6"/>
<line x1="216.7" y1="683" x2="216.7" y2="711.8" stroke="#6e6eba" stroke-width="1.6"/>
<polygon points="214.3,687.6 219.1,687.6 216.7,692.4" stroke="#4050f0" stroke-width="0.8" fill="#4050f0"/>
<line x1="214.3" y1="692.4" x2="219.1" y2="692.4" stroke="#4050f0" stroke-width="1.1"/>
<text x="209" y="686" font-size="4.2" fill="#5264ec" font-family="Liberation Sans" text-anchor="start" font-weight="normal" transform="rotate(90 209 686)">15V</text>
<text x="220" y="686" font-size="4.2" fill="#5264ec" font-family="Liberation Sans" text-anchor="start" font-weight="normal" transform="rotate(90 220 686)">Z?</text>
<line x1="142" y1="711.8" x2="226.7" y2="711.8" stroke="#6e6eba" stroke-width="1.6"/>
<text x="237.35" y="714.1" font-size="4.2" fill="#5264ec" font-family="Liberation Sans" text-anchor="start" font-weight="normal" transform="rotate(90 237.35 714.1)">100K</text>
<text x="242.55" y="714.1" font-size="4.2" fill="#5264ec" font-family="Liberation Sans" text-anchor="start" font-weight="normal" transform="rotate(90 242.55 714.1)">R?</text>
<line x1="226.3" y1="711.8" x2="231.3" y2="711.8" stroke="#8c8c8c" stroke-width="1.5"/>
<line x1="246" y1="711.8" x2="251" y2="711.8" stroke="#8c8c8c" stroke-width="1.5"/>
<polyline points="231.3,711.8 231.71,711.05 232.12,710.5 232.53,710.3 232.93,710.5 233.34,711.05 233.75,711.8 234.16,712.55 234.57,713.1 234.98,713.3 235.38,713.1 235.79,712.55 236.2,711.8 236.61,711.05 237.02,710.5 237.43,710.3 237.83,710.5 238.24,711.05 238.65,711.8 239.06,712.55 239.47,713.1 239.88,713.3 240.28,713.1 240.69,712.55 241.1,711.8 241.51,711.05 241.92,710.5 242.32,710.3 242.73,710.5 243.14,711.05 243.55,711.8 243.96,712.55 244.37,713.1 244.78,713.3 245.18,713.1 245.59,712.55 246,711.8" stroke="#4050f0" stroke-width="1.3" fill="none" stroke-linejoin="miter"/>
<line x1="251" y1="711.8" x2="253" y2="711.8" stroke="#8c8c8c" stroke-width="1.4"/>
<polygon points="253.6,709.4 253.6,714.2 258.4,711.8" stroke="#4050f0" stroke-width="0.8" fill="#4050f0"/>
<line x1="258.4" y1="709.4" x2="258.4" y2="714.2" stroke="#4050f0" stroke-width="1.1"/>
<text x="252" y="715" font-size="4.2" fill="#5264ec" font-family="Liberation Sans" text-anchor="start" font-weight="normal" transform="rotate(90 252 715)">1N4148</text>
<text x="257" y="715" font-size="4.2" fill="#5264ec" font-family="Liberation Sans" text-anchor="start" font-weight="normal" transform="rotate(90 257 715)">D?</text>
<line x1="258.5" y1="711.8" x2="267" y2="711.8" stroke="#6e6eba" stroke-width="1.6"/>
<line x1="265" y1="711.8" x2="265" y2="702" stroke="#8c8c8c" stroke-width="1.4"/>
<line x1="262" y1="702" x2="268" y2="702" stroke="#b04848" stroke-width="1.3"/>
<text x="262" y="688" font-size="4" fill="#b04848" font-family="Liberation Sans" text-anchor="start" font-weight="normal" transform="rotate(90 262 688)">+5V</text>
<polygon points="267,711.8 269.5,708.8 281.5,708.8 284,711.8 281.5,714.8 269.5,714.8" stroke="#c06030" stroke-width="1.0" fill="#f0dc62"/>
<line x1="371.4" y1="615.2" x2="449.6" y2="615.2" stroke="#6e6eba" stroke-width="1.6"/>
<text x="365.1" y="620" font-size="4.2" fill="#5264ec" font-family="Liberation Sans" text-anchor="start" font-weight="normal" transform="rotate(90 365.1 620)">22K</text>
<text x="374" y="620" font-size="4.2" fill="#5264ec" font-family="Liberation Sans" text-anchor="start" font-weight="normal" transform="rotate(90 374 620)">R?</text>
<line x1="371.4" y1="615" x2="371.4" y2="620" stroke="#8c8c8c" stroke-width="1.5"/>
<line x1="371.4" y1="635" x2="371.4" y2="640" stroke="#8c8c8c" stroke-width="1.5"/>
<polyline points="371.4,620 372.15,620.42 372.7,620.83 372.9,621.25 372.7,621.67 372.15,622.08 371.4,622.5 370.65,622.92 370.1,623.33 369.9,623.75 370.1,624.17 370.65,624.58 371.4,625 372.15,625.42 372.7,625.83 372.9,626.25 372.7,626.67 372.15,627.08 371.4,627.5 370.65,627.92 370.1,628.33 369.9,628.75 370.1,629.17 370.65,629.58 371.4,630 372.15,630.42 372.7,630.83 372.9,631.25 372.7,631.67 372.15,632.08 371.4,632.5 370.65,632.92 370.1,633.33 369.9,633.75 370.1,634.17 370.65,634.58 371.4,635" stroke="#4050f0" stroke-width="1.3" fill="none" stroke-linejoin="miter"/>
<line x1="371.4" y1="640" x2="371.4" y2="653.7" stroke="#8c8c8c" stroke-width="1.5"/>
<line x1="391.3" y1="625" x2="425.2" y2="625" stroke="#6e6eba" stroke-width="1.6"/>
<line x1="444.5" y1="625" x2="449.6" y2="625" stroke="#6e6eba" stroke-width="1.6"/>
<polygon points="387,620.2 387,629.8 381.5,625" stroke="#c07070" stroke-width="0.8" fill="#c47c7c"/>
<line x1="387" y1="625" x2="391.3" y2="625" stroke="#b04848" stroke-width="1.6"/>
<text x="385" y="630" font-size="4.2" fill="#5264ec" font-family="Liberation Sans" text-anchor="start" font-weight="normal" transform="rotate(90 385 630)">22K</text>
<text x="393.9" y="630" font-size="4.2" fill="#5264ec" font-family="Liberation Sans" text-anchor="start" font-weight="normal" transform="rotate(90 393.9 630)">R?</text>
<line x1="391.3" y1="625" x2="391.3" y2="630" stroke="#8c8c8c" stroke-width="1.5"/>
<line x1="391.3" y1="645" x2="391.3" y2="650" stroke="#8c8c8c" stroke-width="1.5"/>
<polyline points="391.3,630 392.05,630.42 392.6,630.83 392.8,631.25 392.6,631.67 392.05,632.08 391.3,632.5 390.55,632.92 390,633.33 389.8,633.75 390,634.17 390.55,634.58 391.3,635 392.05,635.42 392.6,635.83 392.8,636.25 392.6,636.67 392.05,637.08 391.3,637.5 390.55,637.92 390,638.33 389.8,638.75 390,639.17 390.55,639.58 391.3,640 392.05,640.42 392.6,640.83 392.8,641.25 392.6,641.67 392.05,642.08 391.3,642.5 390.55,642.92 390,643.33 389.8,643.75 390,644.17 390.55,644.58 391.3,645" stroke="#4050f0" stroke-width="1.3" fill="none" stroke-linejoin="miter"/>
<line x1="391.3" y1="650" x2="391.3" y2="653.7" stroke="#8c8c8c" stroke-width="1.5"/>
<line x1="420.2" y1="625" x2="420.2" y2="639.2" stroke="#8c8c8c" stroke-width="1.4"/>
<line x1="420.2" y1="639.2" x2="420.2" y2="649.5" stroke="#6e6eba" stroke-width="1.6"/>
<line x1="444.5" y1="625" x2="444.5" y2="639.2" stroke="#8c8c8c" stroke-width="1.4"/>
<line x1="444.5" y1="639.2" x2="444.5" y2="649.5" stroke="#6e6eba" stroke-width="1.6"/>
<line x1="425.2" y1="625" x2="425.2" y2="639.2" stroke="#8c8c8c" stroke-width="1.4"/>
<line x1="449.6" y1="625" x2="449.6" y2="639.2" stroke="#8c8c8c" stroke-width="1.4"/>
<rect x="362" y="653.5" width="39" height="15" fill="#fbfbe0" stroke="#c07060" stroke-width="1.2"/>
<line x1="365.5" y1="660.5" x2="378" y2="660.5" stroke="#4050f0" stroke-width="1.6"/>
<line x1="385" y1="660.5" x2="397.5" y2="660.5" stroke="#4050f0" stroke-width="1.6"/>
<line x1="369.5" y1="660.5" x2="365" y2="668.5" stroke="#4050f0" stroke-width="1.1"/>
<line x1="373.5" y1="660.5" x2="380" y2="668" stroke="#4050f0" stroke-width="1.1"/>
<line x1="389" y1="660.5" x2="383" y2="668" stroke="#4050f0" stroke-width="1.1"/>
<line x1="393.5" y1="660.5" x2="399" y2="668.5" stroke="#4050f0" stroke-width="1.1"/>
<circle cx="379" cy="666.5" r="1.3" fill="#4050f0"/>
<circle cx="384" cy="666.5" r="1.3" fill="#4050f0"/>
<line x1="381.5" y1="653.5" x2="381.5" y2="667" stroke="#8c8c8c" stroke-width="1.2"/>
<text x="357.5" y="654" font-size="4.2" fill="#5264ec" font-family="Liberation Sans" text-anchor="start" font-weight="normal" transform="rotate(90 357.5 654)">UMX1N</text>
<text x="403" y="654.5" font-size="4.2" fill="#5264ec" font-family="Liberation Sans" text-anchor="start" font-weight="normal" transform="rotate(90 403 654.5)">Q?</text>
<polyline points="381.5,653.5 381.5,644.4 352.2,644.4 352.2,683" stroke="#6e6eba" stroke-width="1.6" fill="none" stroke-linejoin="miter"/>
<line x1="365" y1="668.5" x2="365" y2="711.8" stroke="#6e6eba" stroke-width="1.6"/>
<polyline points="365,678 399,678 399,668.5" stroke="#6e6eba" stroke-width="1.6" fill="none" stroke-linejoin="miter"/>
<line x1="352.2" y1="683" x2="455" y2="683" stroke="#6e6eba" stroke-width="1.6"/>
<rect x="415.2" y="639.2" width="49.3" height="34" fill="#fff8a0" stroke="#c06040" stroke-width="1.2"/>
<text x="410.5" y="640" font-size="4.2" fill="#5264ec" font-family="Liberation Sans" text-anchor="start" font-weight="normal" transform="rotate(90 410.5 640)">IRF7303</text>
<text x="466" y="641" font-size="4.2" fill="#5264ec" font-family="Liberation Sans" text-anchor="start" font-weight="normal" transform="rotate(90 466 641)">U?</text>
<polyline points="425.2,639.2 425.2,644 440,644 440,649" stroke="#4050f0" stroke-width="1.1" fill="none" stroke-linejoin="miter"/>
<polyline points="420.2,649.5 426.5,649.5" stroke="#4050f0" stroke-width="1.1" fill="none" stroke-linejoin="miter"/>
<circle cx="430.5" cy="654.5" r="8.6" fill="none" stroke="#4050f0" stroke-width="1"/>
<line x1="436" y1="648.5" x2="436" y2="659.5" stroke="#4050f0" stroke-width="1.4"/>
<line x1="427" y1="649" x2="427" y2="651.5" stroke="#4050f0" stroke-width="1.3"/>
<line x1="427" y1="653" x2="427" y2="656" stroke="#4050f0" stroke-width="1.3"/>
<line x1="427" y1="657.5" x2="427" y2="660" stroke="#4050f0" stroke-width="1.3"/>
<line x1="427" y1="650.3" x2="434.3" y2="650.3" stroke="#4050f0" stroke-width="1.1"/>
<line x1="427" y1="658.7" x2="434.3" y2="658.7" stroke="#4050f0" stroke-width="1.1"/>
<line x1="434.3" y1="650.3" x2="434.3" y2="658.7" stroke="#4050f0" stroke-width="1.1"/>
<polygon points="429.5,648.7 429.5,651.9 432.5,650.3" stroke="#4050f0" stroke-width="0.6" fill="#4050f0"/>
<polygon points="429.7,655.1 432.3,655.1 431,657.5" stroke="#4050f0" stroke-width="0.6" fill="#4050f0"/>
<line x1="427" y1="654.5" x2="431" y2="654.5" stroke="#4050f0" stroke-width="1.1"/>
<polyline points="426.5,659.5 420.2,659.5 420.2,668 425.2,668 425.2,673.2" stroke="#4050f0" stroke-width="1.1" fill="none" stroke-linejoin="miter"/>
<polyline points="449.6,639.2 449.6,644 464,644 464,649" stroke="#4050f0" stroke-width="1.1" fill="none" stroke-linejoin="miter"/>
<polyline points="444.5,649.5 450.5,649.5" stroke="#4050f0" stroke-width="1.1" fill="none" stroke-linejoin="miter"/>
<circle cx="454.5" cy="654.5" r="8.6" fill="none" stroke="#4050f0" stroke-width="1"/>
<line x1="460" y1="648.5" x2="460" y2="659.5" stroke="#4050f0" stroke-width="1.4"/>
<line x1="451" y1="649" x2="451" y2="651.5" stroke="#4050f0" stroke-width="1.3"/>
<line x1="451" y1="653" x2="451" y2="656" stroke="#4050f0" stroke-width="1.3"/>
<line x1="451" y1="657.5" x2="451" y2="660" stroke="#4050f0" stroke-width="1.3"/>
<line x1="451" y1="650.3" x2="458.3" y2="650.3" stroke="#4050f0" stroke-width="1.1"/>
<line x1="451" y1="658.7" x2="458.3" y2="658.7" stroke="#4050f0" stroke-width="1.1"/>
<line x1="458.3" y1="650.3" x2="458.3" y2="658.7" stroke="#4050f0" stroke-width="1.1"/>
<polygon points="453.5,648.7 453.5,651.9 456.5,650.3" stroke="#4050f0" stroke-width="0.6" fill="#4050f0"/>
<polygon points="453.7,655.1 456.3,655.1 455,657.5" stroke="#4050f0" stroke-width="0.6" fill="#4050f0"/>
<line x1="451" y1="654.5" x2="455" y2="654.5" stroke="#4050f0" stroke-width="1.1"/>
<polyline points="450.5,659.5 444.5,659.5 444.5,668 449.5,668 449.5,673.2" stroke="#4050f0" stroke-width="1.1" fill="none" stroke-linejoin="miter"/>
<line x1="425" y1="673.2" x2="425" y2="711.8" stroke="#6e6eba" stroke-width="1.6"/>
<line x1="449.7" y1="673.2" x2="449.7" y2="711.8" stroke="#6e6eba" stroke-width="1.6"/>
<line x1="430" y1="673.2" x2="430" y2="683" stroke="#8c8c8c" stroke-width="1.4"/>
<line x1="454.7" y1="673.2" x2="454.7" y2="683" stroke="#8c8c8c" stroke-width="1.4"/>
<line x1="406" y1="683" x2="406" y2="711.8" stroke="#6e6eba" stroke-width="1.6"/>
<text x="398" y="681.9" font-size="4.2" fill="#5264ec" font-family="Liberation Sans" text-anchor="start" font-weight="normal" transform="rotate(90 398 681.9)">10uF</text>
<text x="410.5" y="689.3" font-size="4.2" fill="#5264ec" font-family="Liberation Sans" text-anchor="start" font-weight="normal" transform="rotate(90 410.5 689.3)">C?</text>
<line x1="401" y1="690.1" x2="411" y2="690.1" stroke="#4050f0" stroke-width="1.4"/>
<line x1="401" y1="692.5" x2="411" y2="692.5" stroke="#4050f0" stroke-width="1.4"/>
<text x="409.4" y="693" font-size="4.2" fill="#5264ec" font-family="Liberation Sans" text-anchor="start" font-weight="normal" transform="rotate(90 409.4 693)">100K</text>
<text x="418.3" y="693" font-size="4.2" fill="#5264ec" font-family="Liberation Sans" text-anchor="start" font-weight="normal" transform="rotate(90 418.3 693)">R?</text>
<polyline points="415.7,693 416.45,693.42 417,693.83 417.2,694.25 417,694.67 416.45,695.08 415.7,695.5 414.95,695.92 414.4,696.33 414.2,696.75 414.4,697.17 414.95,697.58 415.7,698 416.45,698.42 417,698.83 417.2,699.25 417,699.67 416.45,700.08 415.7,700.5 414.95,700.92 414.4,701.33 414.2,701.75 414.4,702.17 414.95,702.58 415.7,703 416.45,703.42 417,703.83 417.2,704.25 417,704.67 416.45,705.08 415.7,705.5 414.95,705.92 414.4,706.33 414.2,706.75 414.4,707.17 414.95,707.58 415.7,708" stroke="#4050f0" stroke-width="1.3" fill="none" stroke-linejoin="miter"/>
<line x1="415.7" y1="683" x2="415.7" y2="693" stroke="#6e6eba" stroke-width="1.6"/>
<line x1="415.7" y1="708" x2="415.7" y2="711.8" stroke="#6e6eba" stroke-width="1.6"/>
<line x1="439.7" y1="683" x2="439.7" y2="711.8" stroke="#6e6eba" stroke-width="1.6"/>
<polygon points="437.3,687.6 442.1,687.6 439.7,692.4" stroke="#4050f0" stroke-width="0.8" fill="#4050f0"/>
<line x1="437.3" y1="692.4" x2="442.1" y2="692.4" stroke="#4050f0" stroke-width="1.1"/>
<text x="432" y="686" font-size="4.2" fill="#5264ec" font-family="Liberation Sans" text-anchor="start" font-weight="normal" transform="rotate(90 432 686)">15V</text>
<text x="443" y="686" font-size="4.2" fill="#5264ec" font-family="Liberation Sans" text-anchor="start" font-weight="normal" transform="rotate(90 443 686)">Z?</text>
<line x1="365" y1="711.8" x2="449.7" y2="711.8" stroke="#6e6eba" stroke-width="1.6"/>
<text x="460.35" y="714.1" font-size="4.2" fill="#5264ec" font-family="Liberation Sans" text-anchor="start" font-weight="normal" transform="rotate(90 460.35 714.1)">100K</text>
<text x="465.55" y="714.1" font-size="4.2" fill="#5264ec" font-family="Liberation Sans" text-anchor="start" font-weight="normal" transform="rotate(90 465.55 714.1)">R?</text>
<line x1="449.3" y1="711.8" x2="454.3" y2="711.8" stroke="#8c8c8c" stroke-width="1.5"/>
<line x1="469" y1="711.8" x2="474" y2="711.8" stroke="#8c8c8c" stroke-width="1.5"/>
<polyline points="454.3,711.8 454.71,711.05 455.12,710.5 455.53,710.3 455.93,710.5 456.34,711.05 456.75,711.8 457.16,712.55 457.57,713.1 457.98,713.3 458.38,713.1 458.79,712.55 459.2,711.8 459.61,711.05 460.02,710.5 460.43,710.3 460.83,710.5 461.24,711.05 461.65,711.8 462.06,712.55 462.47,713.1 462.88,713.3 463.28,713.1 463.69,712.55 464.1,711.8 464.51,711.05 464.92,710.5 465.32,710.3 465.73,710.5 466.14,711.05 466.55,711.8 466.96,712.55 467.37,713.1 467.77,713.3 468.18,713.1 468.59,712.55 469,711.8" stroke="#4050f0" stroke-width="1.3" fill="none" stroke-linejoin="miter"/>
<line x1="474" y1="711.8" x2="476" y2="711.8" stroke="#8c8c8c" stroke-width="1.4"/>
<polygon points="476.6,709.4 476.6,714.2 481.4,711.8" stroke="#4050f0" stroke-width="0.8" fill="#4050f0"/>
<line x1="481.4" y1="709.4" x2="481.4" y2="714.2" stroke="#4050f0" stroke-width="1.1"/>
<text x="475" y="715" font-size="4.2" fill="#5264ec" font-family="Liberation Sans" text-anchor="start" font-weight="normal" transform="rotate(90 475 715)">1N4148</text>
<text x="480" y="715" font-size="4.2" fill="#5264ec" font-family="Liberation Sans" text-anchor="start" font-weight="normal" transform="rotate(90 480 715)">D?</text>
<line x1="481.5" y1="711.8" x2="487" y2="711.8" stroke="#8c8c8c" stroke-width="1.4"/>
<line x1="487" y1="711.8" x2="487" y2="717" stroke="#b04848" stroke-width="1.3"/>
<line x1="484.5" y1="717" x2="489.5" y2="717" stroke="#b04848" stroke-width="1.3"/>
<text x="488.5" y="712" font-size="4" fill="#b04848" font-family="Liberation Sans" text-anchor="start" font-weight="normal" transform="rotate(90 488.5 712)">FAULT</text>
<polygon points="296,740.2 296,749.8 290.5,745" stroke="#b04848" stroke-width="1.1" fill="none"/>
<line x1="296" y1="745" x2="299" y2="745" stroke="#6e6eba" stroke-width="1.6"/>
<line x1="299" y1="745" x2="299" y2="760" stroke="#6e6eba" stroke-width="1.6"/>
<polygon points="296.2,762.5 298.95,760 301.7,762.5 301.7,776.7 298.95,779.2 296.2,776.7" stroke="#c06030" stroke-width="1.0" fill="#f0dc62"/>
<text x="297.85" y="762.5" font-size="2.8" fill="#b89850" font-family="Liberation Sans" transform="rotate(90 297.85 762.5)" textLength="14.2" lengthAdjust="spacingAndGlyphs">GND</text>
<polygon points="310,740.2 310,749.8 304.5,745" stroke="#c07070" stroke-width="0.8" fill="#c47c7c"/>
<line x1="310" y1="745" x2="313.5" y2="745" stroke="#6e6eba" stroke-width="1.6"/>
<line x1="313.5" y1="745" x2="313.5" y2="759.5" stroke="#6e6eba" stroke-width="1.6"/>
<polygon points="310.8,759.5 310.8,759.5 316.7,759.5 316.7,787.2 313.75,789.7 310.8,787.2" stroke="#c06030" stroke-width="1.0" fill="#f0dc62"/>
<text x="312.65" y="762" font-size="2.8" fill="#b89850" font-family="Liberation Sans" transform="rotate(90 312.65 762)" textLength="25.2" lengthAdjust="spacingAndGlyphs">PGND_IN</text>
<line x1="320.15" y1="745" x2="326.55" y2="745" stroke="#b04848" stroke-width="1.2"/>
<line x1="323.35" y1="745" x2="323.35" y2="749" stroke="#b04848" stroke-width="1.6"/>
<line x1="323.35" y1="749" x2="323.35" y2="759.5" stroke="#6e6eba" stroke-width="1.6"/>
<polygon points="320.5,759.5 320.5,759.5 326.2,759.5 326.2,774.5 326.2,774.5 320.5,774.5" stroke="#c06030" stroke-width="1.0" fill="#f0dc62"/>
<text x="322.25" y="761" font-size="2.8" fill="#b89850" font-family="Liberation Sans" transform="rotate(90 322.25 761)" textLength="12" lengthAdjust="spacingAndGlyphs">+5V</text>
<text x="324.85" y="742.5" font-size="4" fill="#b04848" font-family="Liberation Sans" text-anchor="start" font-weight="normal" transform="rotate(-90 324.85 742.5)">+5V</text>
<line x1="329.7" y1="745" x2="336.1" y2="745" stroke="#b04848" stroke-width="1.2"/>
<line x1="332.9" y1="745" x2="332.9" y2="749" stroke="#b04848" stroke-width="1.6"/>
<line x1="332.9" y1="749" x2="332.9" y2="759.5" stroke="#6e6eba" stroke-width="1.6"/>
<polygon points="330,759.5 330,759.5 335.8,759.5 335.8,774.5 335.8,774.5 330,774.5" stroke="#c06030" stroke-width="1.0" fill="#f0dc62"/>
<text x="331.8" y="761" font-size="2.8" fill="#b89850" font-family="Liberation Sans" transform="rotate(90 331.8 761)" textLength="12" lengthAdjust="spacingAndGlyphs">-5V</text>
<text x="334.4" y="742.5" font-size="4" fill="#b04848" font-family="Liberation Sans" text-anchor="start" font-weight="normal" transform="rotate(-90 334.4 742.5)">-5V</text>
<line x1="339.5" y1="745" x2="345.9" y2="745" stroke="#b04848" stroke-width="1.2"/>
<line x1="342.7" y1="745" x2="342.7" y2="749" stroke="#b04848" stroke-width="1.6"/>
<line x1="342.7" y1="749" x2="342.7" y2="759.5" stroke="#6e6eba" stroke-width="1.6"/>
<polygon points="340,759.5 340,759.5 345.4,759.5 345.4,779.7 345.4,779.7 340,779.7" stroke="#c06030" stroke-width="1.0" fill="#f0dc62"/>
<text x="341.6" y="761" font-size="2.8" fill="#b89850" font-family="Liberation Sans" transform="rotate(90 341.6 761)" textLength="17.2" lengthAdjust="spacingAndGlyphs">3.3V</text>
<text x="344.2" y="742.5" font-size="4" fill="#b04848" font-family="Liberation Sans" text-anchor="start" font-weight="normal" transform="rotate(-90 344.2 742.5)">3.3V</text>
<line x1="348.9" y1="745" x2="355.3" y2="745" stroke="#b04848" stroke-width="1.2"/>
<line x1="352.1" y1="745" x2="352.1" y2="749" stroke="#b04848" stroke-width="1.6"/>
<line x1="352.1" y1="749" x2="352.1" y2="759.5" stroke="#6e6eba" stroke-width="1.6"/>
<polygon points="349.2,759.5 349.2,759.5 355,759.5 355,774.5 355,774.5 349.2,774.5" stroke="#c06030" stroke-width="1.0" fill="#f0dc62"/>
<text x="351" y="761" font-size="2.8" fill="#b89850" font-family="Liberation Sans" transform="rotate(90 351 761)" textLength="12" lengthAdjust="spacingAndGlyphs">5V</text>
<text x="353.6" y="742.5" font-size="4" fill="#b04848" font-family="Liberation Sans" text-anchor="start" font-weight="normal" transform="rotate(-90 353.6 742.5)">5V</text>
<line x1="358.5" y1="745" x2="364.9" y2="745" stroke="#b04848" stroke-width="1.2"/>
<line x1="361.7" y1="745" x2="361.7" y2="749" stroke="#b04848" stroke-width="1.6"/>
<line x1="361.7" y1="749" x2="361.7" y2="759.5" stroke="#6e6eba" stroke-width="1.6"/>
<polygon points="358.7,759.5 358.7,759.5 364.7,759.5 364.7,774.5 364.7,774.5 358.7,774.5" stroke="#c06030" stroke-width="1.0" fill="#f0dc62"/>
<text x="360.6" y="761" font-size="2.8" fill="#b89850" font-family="Liberation Sans" transform="rotate(90 360.6 761)" textLength="12" lengthAdjust="spacingAndGlyphs">-5V</text>
<text x="363.2" y="742.5" font-size="4" fill="#b04848" font-family="Liberation Sans" text-anchor="start" font-weight="normal" transform="rotate(-90 363.2 742.5)">-5V</text>
<text x="393.4" y="783.9" font-family="Liberation Sans" font-size="16" fill="#ff0000" stroke="#ff0000" stroke-width="0.7" textLength="7.8" lengthAdjust="spacingAndGlyphs">C</text>
<text x="402.7" y="783.9" font-family="Liberation Sans" font-size="16" fill="#ff0000" stroke="#ff0000" stroke-width="0.7" textLength="7.2" lengthAdjust="spacingAndGlyphs">o</text>
<text x="411.7" y="783.9" font-family="Liberation Sans" font-size="16" fill="#ff0000" stroke="#ff0000" stroke-width="0.7" textLength="7.2" lengthAdjust="spacingAndGlyphs">p</text>
<text x="420.5" y="783.9" font-family="Liberation Sans" font-size="16" fill="#ff0000" stroke="#ff0000" stroke-width="0.7" textLength="7.6" lengthAdjust="spacingAndGlyphs">y</text>
<text x="430.3" y="783.9" font-family="Liberation Sans" font-size="16" fill="#ff0000" stroke="#ff0000" stroke-width="0.7" textLength="6.0" lengthAdjust="spacingAndGlyphs">r</text>
<text x="442.3" y="783.9" font-family="Liberation Sans" font-size="16" fill="#ff0000" stroke="#ff0000" stroke-width="0.7" text-anchor="middle">i</text>
<text x="447.7" y="783.9" font-family="Liberation Sans" font-size="16" fill="#ff0000" stroke="#ff0000" stroke-width="0.7" textLength="7.2" lengthAdjust="spacingAndGlyphs">g</text>
<text x="456.8" y="783.9" font-family="Liberation Sans" font-size="16" fill="#ff0000" stroke="#ff0000" stroke-width="0.7" textLength="7.0" lengthAdjust="spacingAndGlyphs">h</text>
<text x="466.5" y="783.9" font-family="Liberation Sans" font-size="16" fill="#ff0000" stroke="#ff0000" stroke-width="0.7" textLength="5.6" lengthAdjust="spacingAndGlyphs">t</text>
<text x="478.3" y="783.9" font-family="Liberation Sans" font-size="16" fill="#ff0000" stroke="#ff0000" stroke-width="0.7" text-anchor="middle">:</text>
<text x="483.1" y="783.9" font-family="Liberation Sans" font-size="16" fill="#ff0000" stroke="#ff0000" stroke-width="0.7" textLength="8.4" lengthAdjust="spacingAndGlyphs">w</text>
<text x="492.1" y="783.9" font-family="Liberation Sans" font-size="16" fill="#ff0000" stroke="#ff0000" stroke-width="0.7" textLength="8.4" lengthAdjust="spacingAndGlyphs">w</text>
<text x="501.1" y="783.9" font-family="Liberation Sans" font-size="16" fill="#ff0000" stroke="#ff0000" stroke-width="0.7" textLength="8.4" lengthAdjust="spacingAndGlyphs">w</text>
<text x="514.3" y="783.9" font-family="Liberation Sans" font-size="16" fill="#ff0000" stroke="#ff0000" stroke-width="0.7" text-anchor="middle">.</text>
<text x="519.7" y="783.9" font-family="Liberation Sans" font-size="16" fill="#ff0000" stroke="#ff0000" stroke-width="0.7" textLength="7.2" lengthAdjust="spacingAndGlyphs">e</text>
<text x="528.8" y="783.9" font-family="Liberation Sans" font-size="16" fill="#ff0000" stroke="#ff0000" stroke-width="0.7" textLength="7.0" lengthAdjust="spacingAndGlyphs">c</text>
<text x="537.8" y="783.9" font-family="Liberation Sans" font-size="16" fill="#ff0000" stroke="#ff0000" stroke-width="0.7" textLength="7.0" lengthAdjust="spacingAndGlyphs">c</text>
<text x="546.8" y="783.9" font-family="Liberation Sans" font-size="16" fill="#ff0000" stroke="#ff0000" stroke-width="0.7" textLength="7.0" lengthAdjust="spacingAndGlyphs">n</text>
<text x="559.3" y="783.9" font-family="Liberation Sans" font-size="16" fill="#ff0000" stroke="#ff0000" stroke-width="0.7" text-anchor="middle">.</text>
<text x="564.8" y="783.9" font-family="Liberation Sans" font-size="16" fill="#ff0000" stroke="#ff0000" stroke-width="0.7" textLength="7.0" lengthAdjust="spacingAndGlyphs">c</text>
<text x="573.7" y="783.9" font-family="Liberation Sans" font-size="16" fill="#ff0000" stroke="#ff0000" stroke-width="0.7" textLength="7.2" lengthAdjust="spacingAndGlyphs">o</text>
<text x="582.2" y="783.9" font-family="Liberation Sans" font-size="16" fill="#ff0000" stroke="#ff0000" stroke-width="0.7" textLength="8.2" lengthAdjust="spacingAndGlyphs">m</text>
<circle cx="183" cy="63.4" r="1.8" fill="#101070"/>
<circle cx="183" cy="104.7" r="1.8" fill="#101070"/>
<circle cx="183" cy="239.5" r="1.8" fill="#101070"/>
<circle cx="183" cy="360" r="1.8" fill="#101070"/>
<circle cx="183" cy="133.4" r="1.8" fill="#101070"/>
<circle cx="104.7" cy="123" r="1.8" fill="#101070"/>
<circle cx="104.7" cy="133.4" r="1.8" fill="#101070"/>
<circle cx="124.6" cy="133.4" r="1.8" fill="#101070"/>
<circle cx="124.6" cy="152.4" r="1.8" fill="#101070"/>
<circle cx="91" cy="171.5" r="1.8" fill="#101070"/>
<circle cx="134" cy="171.5" r="1.8" fill="#101070"/>
<circle cx="114.3" cy="210.3" r="1.8" fill="#101070"/>
<circle cx="144.2" cy="210.3" r="1.8" fill="#101070"/>
<circle cx="144.2" cy="234.8" r="1.8" fill="#101070"/>
<circle cx="144.2" cy="262.8" r="1.8" fill="#101070"/>
<circle cx="134.2" cy="262.8" r="1.8" fill="#101070"/>
<circle cx="114.3" cy="277.5" r="1.8" fill="#101070"/>
<circle cx="139.9" cy="277.5" r="1.8" fill="#101070"/>
<circle cx="163.7" cy="277.5" r="1.8" fill="#101070"/>
<circle cx="114.3" cy="292.5" r="1.8" fill="#101070"/>
<circle cx="139.9" cy="301.6" r="1.8" fill="#101070"/>
<circle cx="183" cy="436.7" r="1.8" fill="#101070"/>
<circle cx="183" cy="446.8" r="1.8" fill="#101070"/>
<circle cx="183" cy="465.5" r="1.8" fill="#101070"/>
<circle cx="183" cy="489.9" r="1.8" fill="#101070"/>
<circle cx="183" cy="495" r="1.8" fill="#101070"/>
<circle cx="183" cy="509.3" r="1.8" fill="#101070"/>
<circle cx="183" cy="523.9" r="1.8" fill="#101070"/>
<circle cx="158.5" cy="543.2" r="1.8" fill="#101070"/>
<circle cx="183" cy="543.2" r="1.8" fill="#101070"/>
<circle cx="158.5" cy="562.4" r="1.8" fill="#101070"/>
<circle cx="493" cy="58.5" r="1.8" fill="#101070"/>
<circle cx="493" cy="104.7" r="1.8" fill="#101070"/>
<circle cx="493" cy="239.5" r="1.8" fill="#101070"/>
<circle cx="493" cy="355.1" r="1.8" fill="#101070"/>
<circle cx="493" cy="133.4" r="1.8" fill="#101070"/>
<circle cx="414.7" cy="123" r="1.8" fill="#101070"/>
<circle cx="414.7" cy="133.4" r="1.8" fill="#101070"/>
<circle cx="434.6" cy="133.4" r="1.8" fill="#101070"/>
<circle cx="434.6" cy="152.4" r="1.8" fill="#101070"/>
<circle cx="401" cy="171.5" r="1.8" fill="#101070"/>
<circle cx="444" cy="171.5" r="1.8" fill="#101070"/>
<circle cx="424.3" cy="210.3" r="1.8" fill="#101070"/>
<circle cx="454.2" cy="210.3" r="1.8" fill="#101070"/>
<circle cx="454.2" cy="234.8" r="1.8" fill="#101070"/>
<circle cx="454.2" cy="262.8" r="1.8" fill="#101070"/>
<circle cx="444.2" cy="262.8" r="1.8" fill="#101070"/>
<circle cx="424.3" cy="277.5" r="1.8" fill="#101070"/>
<circle cx="449.9" cy="277.5" r="1.8" fill="#101070"/>
<circle cx="473.7" cy="277.5" r="1.8" fill="#101070"/>
<circle cx="424.3" cy="292.5" r="1.8" fill="#101070"/>
<circle cx="449.9" cy="301.6" r="1.8" fill="#101070"/>
<circle cx="493" cy="436.7" r="1.8" fill="#101070"/>
<circle cx="493" cy="446.8" r="1.8" fill="#101070"/>
<circle cx="493" cy="465.5" r="1.8" fill="#101070"/>
<circle cx="493" cy="489.9" r="1.8" fill="#101070"/>
<circle cx="493" cy="495" r="1.8" fill="#101070"/>
<circle cx="493" cy="509.3" r="1.8" fill="#101070"/>
<circle cx="493" cy="523.9" r="1.8" fill="#101070"/>
<circle cx="468.5" cy="543.2" r="1.8" fill="#101070"/>
<circle cx="493" cy="543.2" r="1.8" fill="#101070"/>
<circle cx="468.5" cy="562.4" r="1.8" fill="#101070"/>
<circle cx="425.1" cy="340.4" r="1.8" fill="#101070"/>
<circle cx="493" cy="104.7" r="1.8" fill="#101070"/>
<circle cx="265.4" cy="210.2" r="1.8" fill="#101070"/>
<circle cx="294.2" cy="210.2" r="1.8" fill="#101070"/>
<circle cx="274.4" cy="244.2" r="1.8" fill="#101070"/>
<circle cx="294.2" cy="244.2" r="1.8" fill="#101070"/>
<circle cx="313.8" cy="244.2" r="1.8" fill="#101070"/>
<circle cx="274.4" cy="282.5" r="1.8" fill="#101070"/>
<circle cx="294.2" cy="282.5" r="1.8" fill="#101070"/>
<circle cx="313.8" cy="282.5" r="1.8" fill="#101070"/>
<circle cx="274.5" cy="316.3" r="1.8" fill="#101070"/>
<circle cx="265.4" cy="331.2" r="1.8" fill="#101070"/>
<circle cx="313.4" cy="331.2" r="1.8" fill="#101070"/>
<circle cx="260.58" cy="369.2" r="1.5" fill="#101070"/>
<circle cx="265.36" cy="369.2" r="1.5" fill="#101070"/>
<circle cx="270.14" cy="369.2" r="1.5" fill="#101070"/>
<circle cx="279.7" cy="369.2" r="1.5" fill="#101070"/>
<circle cx="284.48" cy="369.2" r="1.5" fill="#101070"/>
<circle cx="289.26" cy="369.2" r="1.5" fill="#101070"/>
<circle cx="294.04" cy="369.2" r="1.5" fill="#101070"/>
<circle cx="298.82" cy="369.2" r="1.5" fill="#101070"/>
<circle cx="303.6" cy="369.2" r="1.5" fill="#101070"/>
<circle cx="313.16" cy="369.2" r="1.5" fill="#101070"/>
<circle cx="317.94" cy="369.2" r="1.5" fill="#101070"/>
<circle cx="322.72" cy="369.2" r="1.5" fill="#101070"/>
<circle cx="274.6" cy="475" r="1.8" fill="#101070"/>
<circle cx="313.6" cy="475" r="1.8" fill="#101070"/>
<circle cx="221.5" cy="625" r="1.8" fill="#101070"/>
<circle cx="226.6" cy="625" r="1.8" fill="#101070"/>
<circle cx="197.2" cy="625" r="1.8" fill="#101070"/>
<circle cx="202.2" cy="625" r="1.8" fill="#101070"/>
<circle cx="168.3" cy="625" r="1.8" fill="#101070"/>
<circle cx="142" cy="678" r="1.8" fill="#101070"/>
<circle cx="207" cy="683" r="1.8" fill="#101070"/>
<circle cx="183" cy="683" r="1.8" fill="#101070"/>
<circle cx="192.7" cy="683" r="1.8" fill="#101070"/>
<circle cx="216.7" cy="683" r="1.8" fill="#101070"/>
<circle cx="183" cy="711.8" r="1.8" fill="#101070"/>
<circle cx="192.7" cy="711.8" r="1.8" fill="#101070"/>
<circle cx="202" cy="711.8" r="1.8" fill="#101070"/>
<circle cx="216.7" cy="711.8" r="1.8" fill="#101070"/>
<circle cx="226.7" cy="711.8" r="1.8" fill="#101070"/>
<circle cx="265" cy="711.8" r="1.8" fill="#101070"/>
<circle cx="449.6" cy="615.2" r="1.8" fill="#101070"/>
<circle cx="449.6" cy="625" r="1.8" fill="#101070"/>
<circle cx="420.2" cy="625" r="1.8" fill="#101070"/>
<circle cx="391.3" cy="625" r="1.8" fill="#101070"/>
<circle cx="365" cy="678" r="1.8" fill="#101070"/>
<circle cx="430" cy="683" r="1.8" fill="#101070"/>
<circle cx="406" cy="683" r="1.8" fill="#101070"/>
<circle cx="415.7" cy="683" r="1.8" fill="#101070"/>
<circle cx="439.7" cy="683" r="1.8" fill="#101070"/>
<circle cx="406" cy="711.8" r="1.8" fill="#101070"/>
<circle cx="415.7" cy="711.8" r="1.8" fill="#101070"/>
<circle cx="425" cy="711.8" r="1.8" fill="#101070"/>
<circle cx="439.7" cy="711.8" r="1.8" fill="#101070"/>
<circle cx="449.7" cy="711.8" r="1.8" fill="#101070"/></svg></body></html>
